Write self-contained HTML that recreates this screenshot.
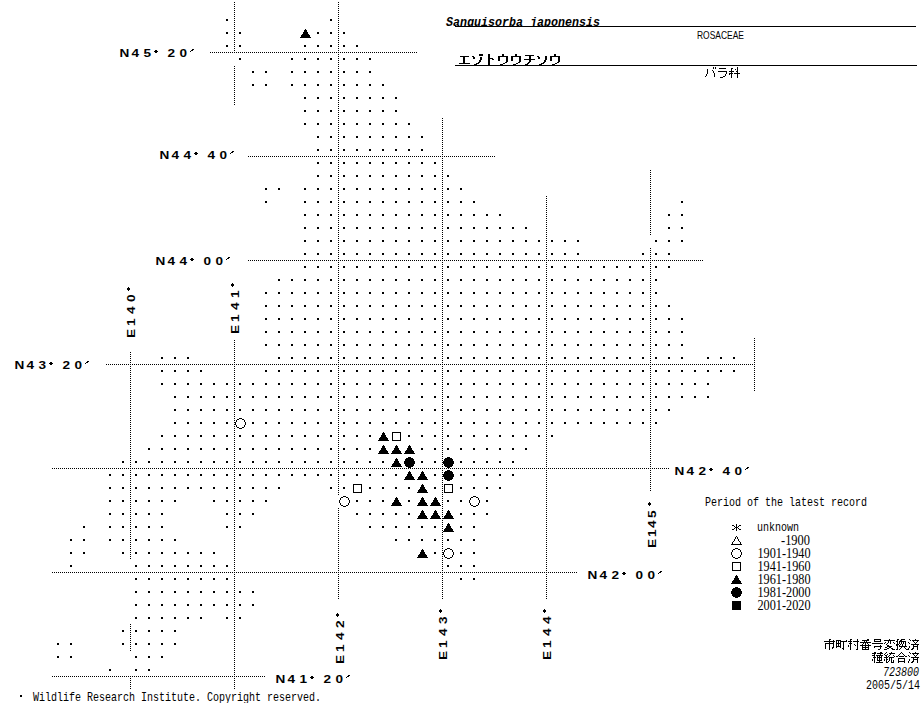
<!DOCTYPE html>
<html><head><meta charset="utf-8">
<style>
html,body{margin:0;padding:0;background:#fff;}
body{width:923px;height:703px;overflow:hidden;position:relative;}
svg{position:absolute;left:0;top:0;display:block;}
.lb{font-family:"Liberation Sans",sans-serif;font-weight:bold;font-size:10px;fill:#000;}
.mono{font-family:"Liberation Mono",monospace;fill:#000;}
.serif{font-family:"Liberation Serif",serif;fill:#000;}
.sans{font-family:"Liberation Sans",sans-serif;fill:#000;}
</style></head><body>
<svg width="923" height="703" viewBox="0 0 923 703">
<g shape-rendering="crispEdges" fill="#000">
<path d="M226 19h2v2h-2zM330 19h2v2h-2zM226 32h2v2h-2zM239 32h2v2h-2zM317 32h2v2h-2zM330 32h2v2h-2zM343 32h2v2h-2zM226 45h2v2h-2zM239 45h2v2h-2zM304 45h2v2h-2zM317 45h2v2h-2zM330 45h2v2h-2zM343 45h2v2h-2zM356 45h2v2h-2zM239 58h2v2h-2zM291 58h2v2h-2zM304 58h2v2h-2zM317 58h2v2h-2zM330 58h2v2h-2zM343 58h2v2h-2zM356 58h2v2h-2zM369 58h2v2h-2zM252 71h2v2h-2zM265 71h2v2h-2zM291 71h2v2h-2zM304 71h2v2h-2zM317 71h2v2h-2zM330 71h2v2h-2zM343 71h2v2h-2zM356 71h2v2h-2zM369 71h2v2h-2zM252 84h2v2h-2zM265 84h2v2h-2zM291 84h2v2h-2zM304 84h2v2h-2zM317 84h2v2h-2zM330 84h2v2h-2zM343 84h2v2h-2zM356 84h2v2h-2zM369 84h2v2h-2zM382 84h2v2h-2zM304 97h2v2h-2zM317 97h2v2h-2zM330 97h2v2h-2zM343 97h2v2h-2zM356 97h2v2h-2zM369 97h2v2h-2zM382 97h2v2h-2zM395 97h2v2h-2zM304 110h2v2h-2zM317 110h2v2h-2zM330 110h2v2h-2zM343 110h2v2h-2zM356 110h2v2h-2zM369 110h2v2h-2zM382 110h2v2h-2zM395 110h2v2h-2zM304 123h2v2h-2zM317 123h2v2h-2zM330 123h2v2h-2zM343 123h2v2h-2zM356 123h2v2h-2zM369 123h2v2h-2zM382 123h2v2h-2zM395 123h2v2h-2zM408 123h2v2h-2zM317 136h2v2h-2zM330 136h2v2h-2zM343 136h2v2h-2zM356 136h2v2h-2zM369 136h2v2h-2zM382 136h2v2h-2zM395 136h2v2h-2zM408 136h2v2h-2zM421 136h2v2h-2zM317 149h2v2h-2zM330 149h2v2h-2zM343 149h2v2h-2zM356 149h2v2h-2zM369 149h2v2h-2zM382 149h2v2h-2zM395 149h2v2h-2zM408 149h2v2h-2zM421 149h2v2h-2zM317 162h2v2h-2zM330 162h2v2h-2zM343 162h2v2h-2zM356 162h2v2h-2zM369 162h2v2h-2zM382 162h2v2h-2zM395 162h2v2h-2zM408 162h2v2h-2zM421 162h2v2h-2zM434 162h2v2h-2zM317 175h2v2h-2zM330 175h2v2h-2zM343 175h2v2h-2zM356 175h2v2h-2zM369 175h2v2h-2zM382 175h2v2h-2zM395 175h2v2h-2zM408 175h2v2h-2zM421 175h2v2h-2zM434 175h2v2h-2zM447 175h2v2h-2zM265 188h2v2h-2zM278 188h2v2h-2zM304 188h2v2h-2zM317 188h2v2h-2zM330 188h2v2h-2zM343 188h2v2h-2zM356 188h2v2h-2zM369 188h2v2h-2zM382 188h2v2h-2zM395 188h2v2h-2zM408 188h2v2h-2zM421 188h2v2h-2zM434 188h2v2h-2zM447 188h2v2h-2zM460 188h2v2h-2zM265 201h2v2h-2zM304 201h2v2h-2zM317 201h2v2h-2zM330 201h2v2h-2zM343 201h2v2h-2zM356 201h2v2h-2zM369 201h2v2h-2zM382 201h2v2h-2zM395 201h2v2h-2zM408 201h2v2h-2zM421 201h2v2h-2zM434 201h2v2h-2zM447 201h2v2h-2zM460 201h2v2h-2zM473 201h2v2h-2zM681 201h2v2h-2zM304 214h2v2h-2zM317 214h2v2h-2zM330 214h2v2h-2zM343 214h2v2h-2zM356 214h2v2h-2zM369 214h2v2h-2zM382 214h2v2h-2zM395 214h2v2h-2zM408 214h2v2h-2zM421 214h2v2h-2zM434 214h2v2h-2zM447 214h2v2h-2zM460 214h2v2h-2zM473 214h2v2h-2zM486 214h2v2h-2zM499 214h2v2h-2zM668 214h2v2h-2zM681 214h2v2h-2zM304 227h2v2h-2zM317 227h2v2h-2zM330 227h2v2h-2zM343 227h2v2h-2zM356 227h2v2h-2zM369 227h2v2h-2zM382 227h2v2h-2zM395 227h2v2h-2zM408 227h2v2h-2zM421 227h2v2h-2zM434 227h2v2h-2zM447 227h2v2h-2zM460 227h2v2h-2zM473 227h2v2h-2zM486 227h2v2h-2zM499 227h2v2h-2zM512 227h2v2h-2zM525 227h2v2h-2zM668 227h2v2h-2zM681 227h2v2h-2zM304 240h2v2h-2zM317 240h2v2h-2zM330 240h2v2h-2zM343 240h2v2h-2zM356 240h2v2h-2zM369 240h2v2h-2zM382 240h2v2h-2zM395 240h2v2h-2zM408 240h2v2h-2zM421 240h2v2h-2zM434 240h2v2h-2zM447 240h2v2h-2zM460 240h2v2h-2zM473 240h2v2h-2zM486 240h2v2h-2zM499 240h2v2h-2zM512 240h2v2h-2zM525 240h2v2h-2zM538 240h2v2h-2zM551 240h2v2h-2zM564 240h2v2h-2zM577 240h2v2h-2zM655 240h2v2h-2zM668 240h2v2h-2zM681 240h2v2h-2zM304 253h2v2h-2zM317 253h2v2h-2zM330 253h2v2h-2zM343 253h2v2h-2zM356 253h2v2h-2zM369 253h2v2h-2zM382 253h2v2h-2zM395 253h2v2h-2zM408 253h2v2h-2zM421 253h2v2h-2zM434 253h2v2h-2zM447 253h2v2h-2zM460 253h2v2h-2zM473 253h2v2h-2zM486 253h2v2h-2zM499 253h2v2h-2zM512 253h2v2h-2zM525 253h2v2h-2zM538 253h2v2h-2zM551 253h2v2h-2zM564 253h2v2h-2zM577 253h2v2h-2zM642 253h2v2h-2zM655 253h2v2h-2zM668 253h2v2h-2zM304 266h2v2h-2zM317 266h2v2h-2zM330 266h2v2h-2zM343 266h2v2h-2zM356 266h2v2h-2zM369 266h2v2h-2zM382 266h2v2h-2zM395 266h2v2h-2zM408 266h2v2h-2zM421 266h2v2h-2zM434 266h2v2h-2zM447 266h2v2h-2zM460 266h2v2h-2zM473 266h2v2h-2zM486 266h2v2h-2zM499 266h2v2h-2zM512 266h2v2h-2zM525 266h2v2h-2zM538 266h2v2h-2zM551 266h2v2h-2zM564 266h2v2h-2zM577 266h2v2h-2zM590 266h2v2h-2zM603 266h2v2h-2zM616 266h2v2h-2zM629 266h2v2h-2zM642 266h2v2h-2zM655 266h2v2h-2zM668 266h2v2h-2zM278 279h2v2h-2zM291 279h2v2h-2zM304 279h2v2h-2zM317 279h2v2h-2zM330 279h2v2h-2zM343 279h2v2h-2zM356 279h2v2h-2zM369 279h2v2h-2zM382 279h2v2h-2zM395 279h2v2h-2zM408 279h2v2h-2zM421 279h2v2h-2zM434 279h2v2h-2zM447 279h2v2h-2zM460 279h2v2h-2zM473 279h2v2h-2zM486 279h2v2h-2zM499 279h2v2h-2zM512 279h2v2h-2zM525 279h2v2h-2zM538 279h2v2h-2zM551 279h2v2h-2zM564 279h2v2h-2zM577 279h2v2h-2zM590 279h2v2h-2zM603 279h2v2h-2zM616 279h2v2h-2zM629 279h2v2h-2zM642 279h2v2h-2zM655 279h2v2h-2zM265 292h2v2h-2zM278 292h2v2h-2zM291 292h2v2h-2zM304 292h2v2h-2zM317 292h2v2h-2zM330 292h2v2h-2zM343 292h2v2h-2zM356 292h2v2h-2zM369 292h2v2h-2zM382 292h2v2h-2zM395 292h2v2h-2zM408 292h2v2h-2zM421 292h2v2h-2zM434 292h2v2h-2zM447 292h2v2h-2zM460 292h2v2h-2zM473 292h2v2h-2zM486 292h2v2h-2zM499 292h2v2h-2zM512 292h2v2h-2zM525 292h2v2h-2zM538 292h2v2h-2zM551 292h2v2h-2zM564 292h2v2h-2zM577 292h2v2h-2zM590 292h2v2h-2zM603 292h2v2h-2zM616 292h2v2h-2zM629 292h2v2h-2zM642 292h2v2h-2zM655 292h2v2h-2zM265 305h2v2h-2zM278 305h2v2h-2zM291 305h2v2h-2zM304 305h2v2h-2zM317 305h2v2h-2zM330 305h2v2h-2zM343 305h2v2h-2zM356 305h2v2h-2zM369 305h2v2h-2zM382 305h2v2h-2zM395 305h2v2h-2zM408 305h2v2h-2zM421 305h2v2h-2zM434 305h2v2h-2zM447 305h2v2h-2zM460 305h2v2h-2zM473 305h2v2h-2zM486 305h2v2h-2zM499 305h2v2h-2zM512 305h2v2h-2zM525 305h2v2h-2zM538 305h2v2h-2zM551 305h2v2h-2zM564 305h2v2h-2zM577 305h2v2h-2zM590 305h2v2h-2zM603 305h2v2h-2zM616 305h2v2h-2zM629 305h2v2h-2zM642 305h2v2h-2zM655 305h2v2h-2zM668 305h2v2h-2zM265 318h2v2h-2zM278 318h2v2h-2zM291 318h2v2h-2zM304 318h2v2h-2zM317 318h2v2h-2zM330 318h2v2h-2zM343 318h2v2h-2zM356 318h2v2h-2zM369 318h2v2h-2zM382 318h2v2h-2zM395 318h2v2h-2zM408 318h2v2h-2zM421 318h2v2h-2zM434 318h2v2h-2zM447 318h2v2h-2zM460 318h2v2h-2zM473 318h2v2h-2zM486 318h2v2h-2zM499 318h2v2h-2zM512 318h2v2h-2zM525 318h2v2h-2zM538 318h2v2h-2zM551 318h2v2h-2zM564 318h2v2h-2zM577 318h2v2h-2zM590 318h2v2h-2zM603 318h2v2h-2zM616 318h2v2h-2zM629 318h2v2h-2zM642 318h2v2h-2zM655 318h2v2h-2zM668 318h2v2h-2zM681 318h2v2h-2zM265 331h2v2h-2zM278 331h2v2h-2zM291 331h2v2h-2zM304 331h2v2h-2zM317 331h2v2h-2zM330 331h2v2h-2zM343 331h2v2h-2zM356 331h2v2h-2zM369 331h2v2h-2zM382 331h2v2h-2zM395 331h2v2h-2zM408 331h2v2h-2zM421 331h2v2h-2zM434 331h2v2h-2zM447 331h2v2h-2zM460 331h2v2h-2zM473 331h2v2h-2zM486 331h2v2h-2zM499 331h2v2h-2zM512 331h2v2h-2zM525 331h2v2h-2zM538 331h2v2h-2zM551 331h2v2h-2zM564 331h2v2h-2zM577 331h2v2h-2zM590 331h2v2h-2zM603 331h2v2h-2zM616 331h2v2h-2zM629 331h2v2h-2zM642 331h2v2h-2zM655 331h2v2h-2zM668 331h2v2h-2zM681 331h2v2h-2zM265 344h2v2h-2zM278 344h2v2h-2zM291 344h2v2h-2zM304 344h2v2h-2zM317 344h2v2h-2zM330 344h2v2h-2zM343 344h2v2h-2zM356 344h2v2h-2zM369 344h2v2h-2zM382 344h2v2h-2zM395 344h2v2h-2zM408 344h2v2h-2zM421 344h2v2h-2zM434 344h2v2h-2zM447 344h2v2h-2zM460 344h2v2h-2zM473 344h2v2h-2zM486 344h2v2h-2zM499 344h2v2h-2zM512 344h2v2h-2zM525 344h2v2h-2zM538 344h2v2h-2zM551 344h2v2h-2zM564 344h2v2h-2zM577 344h2v2h-2zM590 344h2v2h-2zM603 344h2v2h-2zM616 344h2v2h-2zM629 344h2v2h-2zM642 344h2v2h-2zM655 344h2v2h-2zM668 344h2v2h-2zM681 344h2v2h-2zM161 357h2v2h-2zM174 357h2v2h-2zM187 357h2v2h-2zM278 357h2v2h-2zM291 357h2v2h-2zM304 357h2v2h-2zM317 357h2v2h-2zM330 357h2v2h-2zM343 357h2v2h-2zM356 357h2v2h-2zM369 357h2v2h-2zM382 357h2v2h-2zM395 357h2v2h-2zM408 357h2v2h-2zM421 357h2v2h-2zM434 357h2v2h-2zM447 357h2v2h-2zM460 357h2v2h-2zM473 357h2v2h-2zM486 357h2v2h-2zM499 357h2v2h-2zM512 357h2v2h-2zM525 357h2v2h-2zM538 357h2v2h-2zM551 357h2v2h-2zM564 357h2v2h-2zM577 357h2v2h-2zM590 357h2v2h-2zM603 357h2v2h-2zM616 357h2v2h-2zM629 357h2v2h-2zM642 357h2v2h-2zM655 357h2v2h-2zM668 357h2v2h-2zM681 357h2v2h-2zM707 357h2v2h-2zM720 357h2v2h-2zM733 357h2v2h-2zM161 370h2v2h-2zM174 370h2v2h-2zM187 370h2v2h-2zM200 370h2v2h-2zM265 370h2v2h-2zM278 370h2v2h-2zM291 370h2v2h-2zM304 370h2v2h-2zM317 370h2v2h-2zM330 370h2v2h-2zM343 370h2v2h-2zM356 370h2v2h-2zM369 370h2v2h-2zM382 370h2v2h-2zM395 370h2v2h-2zM408 370h2v2h-2zM421 370h2v2h-2zM434 370h2v2h-2zM447 370h2v2h-2zM460 370h2v2h-2zM473 370h2v2h-2zM486 370h2v2h-2zM499 370h2v2h-2zM512 370h2v2h-2zM525 370h2v2h-2zM538 370h2v2h-2zM551 370h2v2h-2zM564 370h2v2h-2zM577 370h2v2h-2zM590 370h2v2h-2zM603 370h2v2h-2zM616 370h2v2h-2zM629 370h2v2h-2zM642 370h2v2h-2zM655 370h2v2h-2zM668 370h2v2h-2zM681 370h2v2h-2zM694 370h2v2h-2zM707 370h2v2h-2zM720 370h2v2h-2zM733 370h2v2h-2zM161 383h2v2h-2zM174 383h2v2h-2zM187 383h2v2h-2zM200 383h2v2h-2zM213 383h2v2h-2zM226 383h2v2h-2zM239 383h2v2h-2zM252 383h2v2h-2zM265 383h2v2h-2zM278 383h2v2h-2zM291 383h2v2h-2zM304 383h2v2h-2zM317 383h2v2h-2zM330 383h2v2h-2zM343 383h2v2h-2zM356 383h2v2h-2zM369 383h2v2h-2zM382 383h2v2h-2zM395 383h2v2h-2zM408 383h2v2h-2zM421 383h2v2h-2zM434 383h2v2h-2zM447 383h2v2h-2zM460 383h2v2h-2zM473 383h2v2h-2zM486 383h2v2h-2zM499 383h2v2h-2zM512 383h2v2h-2zM525 383h2v2h-2zM538 383h2v2h-2zM551 383h2v2h-2zM564 383h2v2h-2zM577 383h2v2h-2zM590 383h2v2h-2zM603 383h2v2h-2zM616 383h2v2h-2zM629 383h2v2h-2zM642 383h2v2h-2zM655 383h2v2h-2zM668 383h2v2h-2zM681 383h2v2h-2zM694 383h2v2h-2zM707 383h2v2h-2zM174 396h2v2h-2zM187 396h2v2h-2zM200 396h2v2h-2zM213 396h2v2h-2zM226 396h2v2h-2zM239 396h2v2h-2zM252 396h2v2h-2zM265 396h2v2h-2zM278 396h2v2h-2zM291 396h2v2h-2zM304 396h2v2h-2zM317 396h2v2h-2zM330 396h2v2h-2zM343 396h2v2h-2zM356 396h2v2h-2zM369 396h2v2h-2zM382 396h2v2h-2zM395 396h2v2h-2zM408 396h2v2h-2zM421 396h2v2h-2zM434 396h2v2h-2zM447 396h2v2h-2zM460 396h2v2h-2zM473 396h2v2h-2zM486 396h2v2h-2zM499 396h2v2h-2zM512 396h2v2h-2zM525 396h2v2h-2zM538 396h2v2h-2zM551 396h2v2h-2zM564 396h2v2h-2zM577 396h2v2h-2zM590 396h2v2h-2zM603 396h2v2h-2zM616 396h2v2h-2zM629 396h2v2h-2zM642 396h2v2h-2zM655 396h2v2h-2zM668 396h2v2h-2zM681 396h2v2h-2zM694 396h2v2h-2zM707 396h2v2h-2zM174 409h2v2h-2zM187 409h2v2h-2zM200 409h2v2h-2zM213 409h2v2h-2zM226 409h2v2h-2zM239 409h2v2h-2zM252 409h2v2h-2zM265 409h2v2h-2zM278 409h2v2h-2zM291 409h2v2h-2zM304 409h2v2h-2zM317 409h2v2h-2zM330 409h2v2h-2zM343 409h2v2h-2zM356 409h2v2h-2zM369 409h2v2h-2zM382 409h2v2h-2zM395 409h2v2h-2zM408 409h2v2h-2zM421 409h2v2h-2zM434 409h2v2h-2zM447 409h2v2h-2zM460 409h2v2h-2zM473 409h2v2h-2zM486 409h2v2h-2zM499 409h2v2h-2zM512 409h2v2h-2zM525 409h2v2h-2zM538 409h2v2h-2zM551 409h2v2h-2zM564 409h2v2h-2zM577 409h2v2h-2zM590 409h2v2h-2zM603 409h2v2h-2zM616 409h2v2h-2zM629 409h2v2h-2zM642 409h2v2h-2zM655 409h2v2h-2zM668 409h2v2h-2zM174 422h2v2h-2zM187 422h2v2h-2zM200 422h2v2h-2zM213 422h2v2h-2zM226 422h2v2h-2zM252 422h2v2h-2zM265 422h2v2h-2zM278 422h2v2h-2zM291 422h2v2h-2zM304 422h2v2h-2zM317 422h2v2h-2zM330 422h2v2h-2zM343 422h2v2h-2zM356 422h2v2h-2zM369 422h2v2h-2zM382 422h2v2h-2zM395 422h2v2h-2zM408 422h2v2h-2zM421 422h2v2h-2zM434 422h2v2h-2zM447 422h2v2h-2zM460 422h2v2h-2zM473 422h2v2h-2zM486 422h2v2h-2zM499 422h2v2h-2zM512 422h2v2h-2zM525 422h2v2h-2zM538 422h2v2h-2zM551 422h2v2h-2zM564 422h2v2h-2zM577 422h2v2h-2zM590 422h2v2h-2zM603 422h2v2h-2zM616 422h2v2h-2zM629 422h2v2h-2zM642 422h2v2h-2zM655 422h2v2h-2zM161 435h2v2h-2zM174 435h2v2h-2zM187 435h2v2h-2zM200 435h2v2h-2zM213 435h2v2h-2zM226 435h2v2h-2zM239 435h2v2h-2zM252 435h2v2h-2zM265 435h2v2h-2zM278 435h2v2h-2zM291 435h2v2h-2zM304 435h2v2h-2zM317 435h2v2h-2zM330 435h2v2h-2zM343 435h2v2h-2zM356 435h2v2h-2zM369 435h2v2h-2zM408 435h2v2h-2zM421 435h2v2h-2zM434 435h2v2h-2zM447 435h2v2h-2zM460 435h2v2h-2zM473 435h2v2h-2zM486 435h2v2h-2zM499 435h2v2h-2zM512 435h2v2h-2zM525 435h2v2h-2zM538 435h2v2h-2zM551 435h2v2h-2zM148 448h2v2h-2zM161 448h2v2h-2zM174 448h2v2h-2zM187 448h2v2h-2zM200 448h2v2h-2zM213 448h2v2h-2zM226 448h2v2h-2zM239 448h2v2h-2zM252 448h2v2h-2zM265 448h2v2h-2zM278 448h2v2h-2zM291 448h2v2h-2zM304 448h2v2h-2zM317 448h2v2h-2zM330 448h2v2h-2zM343 448h2v2h-2zM356 448h2v2h-2zM369 448h2v2h-2zM421 448h2v2h-2zM434 448h2v2h-2zM447 448h2v2h-2zM460 448h2v2h-2zM473 448h2v2h-2zM486 448h2v2h-2zM499 448h2v2h-2zM512 448h2v2h-2zM525 448h2v2h-2zM122 461h2v2h-2zM135 461h2v2h-2zM148 461h2v2h-2zM161 461h2v2h-2zM174 461h2v2h-2zM187 461h2v2h-2zM200 461h2v2h-2zM213 461h2v2h-2zM226 461h2v2h-2zM239 461h2v2h-2zM252 461h2v2h-2zM265 461h2v2h-2zM278 461h2v2h-2zM291 461h2v2h-2zM304 461h2v2h-2zM317 461h2v2h-2zM330 461h2v2h-2zM343 461h2v2h-2zM356 461h2v2h-2zM369 461h2v2h-2zM382 461h2v2h-2zM421 461h2v2h-2zM434 461h2v2h-2zM460 461h2v2h-2zM473 461h2v2h-2zM486 461h2v2h-2zM499 461h2v2h-2zM512 461h2v2h-2zM109 474h2v2h-2zM122 474h2v2h-2zM135 474h2v2h-2zM148 474h2v2h-2zM161 474h2v2h-2zM174 474h2v2h-2zM187 474h2v2h-2zM200 474h2v2h-2zM213 474h2v2h-2zM226 474h2v2h-2zM239 474h2v2h-2zM252 474h2v2h-2zM265 474h2v2h-2zM278 474h2v2h-2zM291 474h2v2h-2zM304 474h2v2h-2zM317 474h2v2h-2zM330 474h2v2h-2zM343 474h2v2h-2zM356 474h2v2h-2zM369 474h2v2h-2zM382 474h2v2h-2zM395 474h2v2h-2zM434 474h2v2h-2zM460 474h2v2h-2zM473 474h2v2h-2zM486 474h2v2h-2zM499 474h2v2h-2zM512 474h2v2h-2zM109 487h2v2h-2zM122 487h2v2h-2zM135 487h2v2h-2zM148 487h2v2h-2zM161 487h2v2h-2zM174 487h2v2h-2zM187 487h2v2h-2zM200 487h2v2h-2zM213 487h2v2h-2zM226 487h2v2h-2zM239 487h2v2h-2zM252 487h2v2h-2zM265 487h2v2h-2zM278 487h2v2h-2zM330 487h2v2h-2zM343 487h2v2h-2zM369 487h2v2h-2zM382 487h2v2h-2zM395 487h2v2h-2zM408 487h2v2h-2zM434 487h2v2h-2zM460 487h2v2h-2zM473 487h2v2h-2zM486 487h2v2h-2zM499 487h2v2h-2zM109 500h2v2h-2zM122 500h2v2h-2zM135 500h2v2h-2zM148 500h2v2h-2zM161 500h2v2h-2zM174 500h2v2h-2zM213 500h2v2h-2zM226 500h2v2h-2zM239 500h2v2h-2zM252 500h2v2h-2zM265 500h2v2h-2zM356 500h2v2h-2zM369 500h2v2h-2zM382 500h2v2h-2zM408 500h2v2h-2zM447 500h2v2h-2zM460 500h2v2h-2zM486 500h2v2h-2zM109 513h2v2h-2zM122 513h2v2h-2zM135 513h2v2h-2zM148 513h2v2h-2zM161 513h2v2h-2zM226 513h2v2h-2zM239 513h2v2h-2zM252 513h2v2h-2zM356 513h2v2h-2zM369 513h2v2h-2zM382 513h2v2h-2zM395 513h2v2h-2zM408 513h2v2h-2zM460 513h2v2h-2zM473 513h2v2h-2zM486 513h2v2h-2zM83 526h2v2h-2zM109 526h2v2h-2zM122 526h2v2h-2zM135 526h2v2h-2zM148 526h2v2h-2zM161 526h2v2h-2zM226 526h2v2h-2zM239 526h2v2h-2zM369 526h2v2h-2zM382 526h2v2h-2zM395 526h2v2h-2zM408 526h2v2h-2zM421 526h2v2h-2zM434 526h2v2h-2zM460 526h2v2h-2zM473 526h2v2h-2zM70 539h2v2h-2zM83 539h2v2h-2zM109 539h2v2h-2zM122 539h2v2h-2zM135 539h2v2h-2zM148 539h2v2h-2zM161 539h2v2h-2zM174 539h2v2h-2zM395 539h2v2h-2zM408 539h2v2h-2zM421 539h2v2h-2zM434 539h2v2h-2zM447 539h2v2h-2zM460 539h2v2h-2zM473 539h2v2h-2zM70 552h2v2h-2zM83 552h2v2h-2zM122 552h2v2h-2zM135 552h2v2h-2zM148 552h2v2h-2zM161 552h2v2h-2zM174 552h2v2h-2zM187 552h2v2h-2zM200 552h2v2h-2zM213 552h2v2h-2zM434 552h2v2h-2zM460 552h2v2h-2zM473 552h2v2h-2zM70 565h2v2h-2zM135 565h2v2h-2zM148 565h2v2h-2zM161 565h2v2h-2zM174 565h2v2h-2zM187 565h2v2h-2zM200 565h2v2h-2zM213 565h2v2h-2zM226 565h2v2h-2zM447 565h2v2h-2zM460 565h2v2h-2zM473 565h2v2h-2zM135 578h2v2h-2zM148 578h2v2h-2zM161 578h2v2h-2zM174 578h2v2h-2zM187 578h2v2h-2zM200 578h2v2h-2zM213 578h2v2h-2zM226 578h2v2h-2zM460 578h2v2h-2zM473 578h2v2h-2zM135 591h2v2h-2zM148 591h2v2h-2zM161 591h2v2h-2zM174 591h2v2h-2zM187 591h2v2h-2zM200 591h2v2h-2zM213 591h2v2h-2zM226 591h2v2h-2zM239 591h2v2h-2zM252 591h2v2h-2zM135 604h2v2h-2zM148 604h2v2h-2zM161 604h2v2h-2zM174 604h2v2h-2zM187 604h2v2h-2zM200 604h2v2h-2zM213 604h2v2h-2zM226 604h2v2h-2zM239 604h2v2h-2zM252 604h2v2h-2zM135 617h2v2h-2zM148 617h2v2h-2zM161 617h2v2h-2zM174 617h2v2h-2zM187 617h2v2h-2zM200 617h2v2h-2zM226 617h2v2h-2zM239 617h2v2h-2zM122 630h2v2h-2zM135 630h2v2h-2zM148 630h2v2h-2zM161 630h2v2h-2zM174 630h2v2h-2zM57 643h2v2h-2zM70 643h2v2h-2zM122 643h2v2h-2zM135 643h2v2h-2zM148 643h2v2h-2zM161 643h2v2h-2zM174 643h2v2h-2zM57 656h2v2h-2zM70 656h2v2h-2zM135 656h2v2h-2zM148 656h2v2h-2zM161 656h2v2h-2zM109 669h2v2h-2zM135 669h2v2h-2zM148 669h2v2h-2z"/>
<path d="M210 52h1v1h-1zM212 52h1v1h-1zM214 52h1v1h-1zM216 52h1v1h-1zM218 52h1v1h-1zM220 52h1v1h-1zM222 52h1v1h-1zM224 52h1v1h-1zM226 52h1v1h-1zM228 52h1v1h-1zM230 52h1v1h-1zM232 52h1v1h-1zM234 52h1v1h-1zM236 52h1v1h-1zM238 52h1v1h-1zM240 52h1v1h-1zM242 52h1v1h-1zM244 52h1v1h-1zM246 52h1v1h-1zM248 52h1v1h-1zM250 52h1v1h-1zM252 52h1v1h-1zM254 52h1v1h-1zM256 52h1v1h-1zM258 52h1v1h-1zM260 52h1v1h-1zM262 52h1v1h-1zM264 52h1v1h-1zM266 52h1v1h-1zM268 52h1v1h-1zM270 52h1v1h-1zM272 52h1v1h-1zM274 52h1v1h-1zM276 52h1v1h-1zM278 52h1v1h-1zM280 52h1v1h-1zM282 52h1v1h-1zM284 52h1v1h-1zM286 52h1v1h-1zM288 52h1v1h-1zM290 52h1v1h-1zM292 52h1v1h-1zM294 52h1v1h-1zM296 52h1v1h-1zM298 52h1v1h-1zM300 52h1v1h-1zM302 52h1v1h-1zM304 52h1v1h-1zM306 52h1v1h-1zM308 52h1v1h-1zM310 52h1v1h-1zM312 52h1v1h-1zM314 52h1v1h-1zM316 52h1v1h-1zM318 52h1v1h-1zM320 52h1v1h-1zM322 52h1v1h-1zM324 52h1v1h-1zM326 52h1v1h-1zM328 52h1v1h-1zM330 52h1v1h-1zM332 52h1v1h-1zM334 52h1v1h-1zM336 52h1v1h-1zM338 52h1v1h-1zM340 52h1v1h-1zM342 52h1v1h-1zM344 52h1v1h-1zM346 52h1v1h-1zM348 52h1v1h-1zM350 52h1v1h-1zM352 52h1v1h-1zM354 52h1v1h-1zM356 52h1v1h-1zM358 52h1v1h-1zM360 52h1v1h-1zM362 52h1v1h-1zM364 52h1v1h-1zM366 52h1v1h-1zM368 52h1v1h-1zM370 52h1v1h-1zM372 52h1v1h-1zM374 52h1v1h-1zM376 52h1v1h-1zM378 52h1v1h-1zM380 52h1v1h-1zM382 52h1v1h-1zM384 52h1v1h-1zM386 52h1v1h-1zM388 52h1v1h-1zM390 52h1v1h-1zM392 52h1v1h-1zM394 52h1v1h-1zM396 52h1v1h-1zM398 52h1v1h-1zM400 52h1v1h-1zM402 52h1v1h-1zM404 52h1v1h-1zM406 52h1v1h-1zM408 52h1v1h-1zM410 52h1v1h-1zM412 52h1v1h-1zM414 52h1v1h-1zM416 52h1v1h-1zM248 156h1v1h-1zM250 156h1v1h-1zM252 156h1v1h-1zM254 156h1v1h-1zM256 156h1v1h-1zM258 156h1v1h-1zM260 156h1v1h-1zM262 156h1v1h-1zM264 156h1v1h-1zM266 156h1v1h-1zM268 156h1v1h-1zM270 156h1v1h-1zM272 156h1v1h-1zM274 156h1v1h-1zM276 156h1v1h-1zM278 156h1v1h-1zM280 156h1v1h-1zM282 156h1v1h-1zM284 156h1v1h-1zM286 156h1v1h-1zM288 156h1v1h-1zM290 156h1v1h-1zM292 156h1v1h-1zM294 156h1v1h-1zM296 156h1v1h-1zM298 156h1v1h-1zM300 156h1v1h-1zM302 156h1v1h-1zM304 156h1v1h-1zM306 156h1v1h-1zM308 156h1v1h-1zM310 156h1v1h-1zM312 156h1v1h-1zM314 156h1v1h-1zM316 156h1v1h-1zM318 156h1v1h-1zM320 156h1v1h-1zM322 156h1v1h-1zM324 156h1v1h-1zM326 156h1v1h-1zM328 156h1v1h-1zM330 156h1v1h-1zM332 156h1v1h-1zM334 156h1v1h-1zM336 156h1v1h-1zM338 156h1v1h-1zM340 156h1v1h-1zM342 156h1v1h-1zM344 156h1v1h-1zM346 156h1v1h-1zM348 156h1v1h-1zM350 156h1v1h-1zM352 156h1v1h-1zM354 156h1v1h-1zM356 156h1v1h-1zM358 156h1v1h-1zM360 156h1v1h-1zM362 156h1v1h-1zM364 156h1v1h-1zM366 156h1v1h-1zM368 156h1v1h-1zM370 156h1v1h-1zM372 156h1v1h-1zM374 156h1v1h-1zM376 156h1v1h-1zM378 156h1v1h-1zM380 156h1v1h-1zM382 156h1v1h-1zM384 156h1v1h-1zM386 156h1v1h-1zM388 156h1v1h-1zM390 156h1v1h-1zM392 156h1v1h-1zM394 156h1v1h-1zM396 156h1v1h-1zM398 156h1v1h-1zM400 156h1v1h-1zM402 156h1v1h-1zM404 156h1v1h-1zM406 156h1v1h-1zM408 156h1v1h-1zM410 156h1v1h-1zM412 156h1v1h-1zM414 156h1v1h-1zM416 156h1v1h-1zM418 156h1v1h-1zM420 156h1v1h-1zM422 156h1v1h-1zM424 156h1v1h-1zM426 156h1v1h-1zM428 156h1v1h-1zM430 156h1v1h-1zM432 156h1v1h-1zM434 156h1v1h-1zM436 156h1v1h-1zM438 156h1v1h-1zM440 156h1v1h-1zM442 156h1v1h-1zM444 156h1v1h-1zM446 156h1v1h-1zM448 156h1v1h-1zM450 156h1v1h-1zM452 156h1v1h-1zM454 156h1v1h-1zM456 156h1v1h-1zM458 156h1v1h-1zM460 156h1v1h-1zM462 156h1v1h-1zM464 156h1v1h-1zM466 156h1v1h-1zM468 156h1v1h-1zM470 156h1v1h-1zM472 156h1v1h-1zM474 156h1v1h-1zM476 156h1v1h-1zM478 156h1v1h-1zM480 156h1v1h-1zM482 156h1v1h-1zM484 156h1v1h-1zM486 156h1v1h-1zM488 156h1v1h-1zM490 156h1v1h-1zM492 156h1v1h-1zM494 156h1v1h-1zM248 260h1v1h-1zM250 260h1v1h-1zM252 260h1v1h-1zM254 260h1v1h-1zM256 260h1v1h-1zM258 260h1v1h-1zM260 260h1v1h-1zM262 260h1v1h-1zM264 260h1v1h-1zM266 260h1v1h-1zM268 260h1v1h-1zM270 260h1v1h-1zM272 260h1v1h-1zM274 260h1v1h-1zM276 260h1v1h-1zM278 260h1v1h-1zM280 260h1v1h-1zM282 260h1v1h-1zM284 260h1v1h-1zM286 260h1v1h-1zM288 260h1v1h-1zM290 260h1v1h-1zM292 260h1v1h-1zM294 260h1v1h-1zM296 260h1v1h-1zM298 260h1v1h-1zM300 260h1v1h-1zM302 260h1v1h-1zM304 260h1v1h-1zM306 260h1v1h-1zM308 260h1v1h-1zM310 260h1v1h-1zM312 260h1v1h-1zM314 260h1v1h-1zM316 260h1v1h-1zM318 260h1v1h-1zM320 260h1v1h-1zM322 260h1v1h-1zM324 260h1v1h-1zM326 260h1v1h-1zM328 260h1v1h-1zM330 260h1v1h-1zM332 260h1v1h-1zM334 260h1v1h-1zM336 260h1v1h-1zM338 260h1v1h-1zM340 260h1v1h-1zM342 260h1v1h-1zM344 260h1v1h-1zM346 260h1v1h-1zM348 260h1v1h-1zM350 260h1v1h-1zM352 260h1v1h-1zM354 260h1v1h-1zM356 260h1v1h-1zM358 260h1v1h-1zM360 260h1v1h-1zM362 260h1v1h-1zM364 260h1v1h-1zM366 260h1v1h-1zM368 260h1v1h-1zM370 260h1v1h-1zM372 260h1v1h-1zM374 260h1v1h-1zM376 260h1v1h-1zM378 260h1v1h-1zM380 260h1v1h-1zM382 260h1v1h-1zM384 260h1v1h-1zM386 260h1v1h-1zM388 260h1v1h-1zM390 260h1v1h-1zM392 260h1v1h-1zM394 260h1v1h-1zM396 260h1v1h-1zM398 260h1v1h-1zM400 260h1v1h-1zM402 260h1v1h-1zM404 260h1v1h-1zM406 260h1v1h-1zM408 260h1v1h-1zM410 260h1v1h-1zM412 260h1v1h-1zM414 260h1v1h-1zM416 260h1v1h-1zM418 260h1v1h-1zM420 260h1v1h-1zM422 260h1v1h-1zM424 260h1v1h-1zM426 260h1v1h-1zM428 260h1v1h-1zM430 260h1v1h-1zM432 260h1v1h-1zM434 260h1v1h-1zM436 260h1v1h-1zM438 260h1v1h-1zM440 260h1v1h-1zM442 260h1v1h-1zM444 260h1v1h-1zM446 260h1v1h-1zM448 260h1v1h-1zM450 260h1v1h-1zM452 260h1v1h-1zM454 260h1v1h-1zM456 260h1v1h-1zM458 260h1v1h-1zM460 260h1v1h-1zM462 260h1v1h-1zM464 260h1v1h-1zM466 260h1v1h-1zM468 260h1v1h-1zM470 260h1v1h-1zM472 260h1v1h-1zM474 260h1v1h-1zM476 260h1v1h-1zM478 260h1v1h-1zM480 260h1v1h-1zM482 260h1v1h-1zM484 260h1v1h-1zM486 260h1v1h-1zM488 260h1v1h-1zM490 260h1v1h-1zM492 260h1v1h-1zM494 260h1v1h-1zM496 260h1v1h-1zM498 260h1v1h-1zM500 260h1v1h-1zM502 260h1v1h-1zM504 260h1v1h-1zM506 260h1v1h-1zM508 260h1v1h-1zM510 260h1v1h-1zM512 260h1v1h-1zM514 260h1v1h-1zM516 260h1v1h-1zM518 260h1v1h-1zM520 260h1v1h-1zM522 260h1v1h-1zM524 260h1v1h-1zM526 260h1v1h-1zM528 260h1v1h-1zM530 260h1v1h-1zM532 260h1v1h-1zM534 260h1v1h-1zM536 260h1v1h-1zM538 260h1v1h-1zM540 260h1v1h-1zM542 260h1v1h-1zM544 260h1v1h-1zM546 260h1v1h-1zM548 260h1v1h-1zM550 260h1v1h-1zM552 260h1v1h-1zM554 260h1v1h-1zM556 260h1v1h-1zM558 260h1v1h-1zM560 260h1v1h-1zM562 260h1v1h-1zM564 260h1v1h-1zM566 260h1v1h-1zM568 260h1v1h-1zM570 260h1v1h-1zM572 260h1v1h-1zM574 260h1v1h-1zM576 260h1v1h-1zM578 260h1v1h-1zM580 260h1v1h-1zM582 260h1v1h-1zM584 260h1v1h-1zM586 260h1v1h-1zM588 260h1v1h-1zM590 260h1v1h-1zM592 260h1v1h-1zM594 260h1v1h-1zM596 260h1v1h-1zM598 260h1v1h-1zM600 260h1v1h-1zM602 260h1v1h-1zM604 260h1v1h-1zM606 260h1v1h-1zM608 260h1v1h-1zM610 260h1v1h-1zM612 260h1v1h-1zM614 260h1v1h-1zM616 260h1v1h-1zM618 260h1v1h-1zM620 260h1v1h-1zM622 260h1v1h-1zM624 260h1v1h-1zM626 260h1v1h-1zM628 260h1v1h-1zM630 260h1v1h-1zM632 260h1v1h-1zM634 260h1v1h-1zM636 260h1v1h-1zM638 260h1v1h-1zM640 260h1v1h-1zM642 260h1v1h-1zM644 260h1v1h-1zM646 260h1v1h-1zM648 260h1v1h-1zM650 260h1v1h-1zM652 260h1v1h-1zM654 260h1v1h-1zM656 260h1v1h-1zM658 260h1v1h-1zM660 260h1v1h-1zM662 260h1v1h-1zM664 260h1v1h-1zM666 260h1v1h-1zM668 260h1v1h-1zM670 260h1v1h-1zM672 260h1v1h-1zM674 260h1v1h-1zM676 260h1v1h-1zM678 260h1v1h-1zM680 260h1v1h-1zM682 260h1v1h-1zM684 260h1v1h-1zM686 260h1v1h-1zM688 260h1v1h-1zM690 260h1v1h-1zM692 260h1v1h-1zM694 260h1v1h-1zM696 260h1v1h-1zM698 260h1v1h-1zM700 260h1v1h-1zM702 260h1v1h-1zM106 364h1v1h-1zM108 364h1v1h-1zM110 364h1v1h-1zM112 364h1v1h-1zM114 364h1v1h-1zM116 364h1v1h-1zM118 364h1v1h-1zM120 364h1v1h-1zM122 364h1v1h-1zM124 364h1v1h-1zM126 364h1v1h-1zM128 364h1v1h-1zM130 364h1v1h-1zM132 364h1v1h-1zM134 364h1v1h-1zM136 364h1v1h-1zM138 364h1v1h-1zM140 364h1v1h-1zM142 364h1v1h-1zM144 364h1v1h-1zM146 364h1v1h-1zM148 364h1v1h-1zM150 364h1v1h-1zM152 364h1v1h-1zM154 364h1v1h-1zM156 364h1v1h-1zM158 364h1v1h-1zM160 364h1v1h-1zM162 364h1v1h-1zM164 364h1v1h-1zM166 364h1v1h-1zM168 364h1v1h-1zM170 364h1v1h-1zM172 364h1v1h-1zM174 364h1v1h-1zM176 364h1v1h-1zM178 364h1v1h-1zM180 364h1v1h-1zM182 364h1v1h-1zM184 364h1v1h-1zM186 364h1v1h-1zM188 364h1v1h-1zM190 364h1v1h-1zM192 364h1v1h-1zM194 364h1v1h-1zM196 364h1v1h-1zM198 364h1v1h-1zM200 364h1v1h-1zM202 364h1v1h-1zM204 364h1v1h-1zM206 364h1v1h-1zM208 364h1v1h-1zM210 364h1v1h-1zM212 364h1v1h-1zM214 364h1v1h-1zM216 364h1v1h-1zM218 364h1v1h-1zM220 364h1v1h-1zM222 364h1v1h-1zM224 364h1v1h-1zM226 364h1v1h-1zM228 364h1v1h-1zM230 364h1v1h-1zM232 364h1v1h-1zM234 364h1v1h-1zM236 364h1v1h-1zM238 364h1v1h-1zM240 364h1v1h-1zM242 364h1v1h-1zM244 364h1v1h-1zM246 364h1v1h-1zM248 364h1v1h-1zM250 364h1v1h-1zM252 364h1v1h-1zM254 364h1v1h-1zM256 364h1v1h-1zM258 364h1v1h-1zM260 364h1v1h-1zM262 364h1v1h-1zM264 364h1v1h-1zM266 364h1v1h-1zM268 364h1v1h-1zM270 364h1v1h-1zM272 364h1v1h-1zM274 364h1v1h-1zM276 364h1v1h-1zM278 364h1v1h-1zM280 364h1v1h-1zM282 364h1v1h-1zM284 364h1v1h-1zM286 364h1v1h-1zM288 364h1v1h-1zM290 364h1v1h-1zM292 364h1v1h-1zM294 364h1v1h-1zM296 364h1v1h-1zM298 364h1v1h-1zM300 364h1v1h-1zM302 364h1v1h-1zM304 364h1v1h-1zM306 364h1v1h-1zM308 364h1v1h-1zM310 364h1v1h-1zM312 364h1v1h-1zM314 364h1v1h-1zM316 364h1v1h-1zM318 364h1v1h-1zM320 364h1v1h-1zM322 364h1v1h-1zM324 364h1v1h-1zM326 364h1v1h-1zM328 364h1v1h-1zM330 364h1v1h-1zM332 364h1v1h-1zM334 364h1v1h-1zM336 364h1v1h-1zM338 364h1v1h-1zM340 364h1v1h-1zM342 364h1v1h-1zM344 364h1v1h-1zM346 364h1v1h-1zM348 364h1v1h-1zM350 364h1v1h-1zM352 364h1v1h-1zM354 364h1v1h-1zM356 364h1v1h-1zM358 364h1v1h-1zM360 364h1v1h-1zM362 364h1v1h-1zM364 364h1v1h-1zM366 364h1v1h-1zM368 364h1v1h-1zM370 364h1v1h-1zM372 364h1v1h-1zM374 364h1v1h-1zM376 364h1v1h-1zM378 364h1v1h-1zM380 364h1v1h-1zM382 364h1v1h-1zM384 364h1v1h-1zM386 364h1v1h-1zM388 364h1v1h-1zM390 364h1v1h-1zM392 364h1v1h-1zM394 364h1v1h-1zM396 364h1v1h-1zM398 364h1v1h-1zM400 364h1v1h-1zM402 364h1v1h-1zM404 364h1v1h-1zM406 364h1v1h-1zM408 364h1v1h-1zM410 364h1v1h-1zM412 364h1v1h-1zM414 364h1v1h-1zM416 364h1v1h-1zM418 364h1v1h-1zM420 364h1v1h-1zM422 364h1v1h-1zM424 364h1v1h-1zM426 364h1v1h-1zM428 364h1v1h-1zM430 364h1v1h-1zM432 364h1v1h-1zM434 364h1v1h-1zM436 364h1v1h-1zM438 364h1v1h-1zM440 364h1v1h-1zM442 364h1v1h-1zM444 364h1v1h-1zM446 364h1v1h-1zM448 364h1v1h-1zM450 364h1v1h-1zM452 364h1v1h-1zM454 364h1v1h-1zM456 364h1v1h-1zM458 364h1v1h-1zM460 364h1v1h-1zM462 364h1v1h-1zM464 364h1v1h-1zM466 364h1v1h-1zM468 364h1v1h-1zM470 364h1v1h-1zM472 364h1v1h-1zM474 364h1v1h-1zM476 364h1v1h-1zM478 364h1v1h-1zM480 364h1v1h-1zM482 364h1v1h-1zM484 364h1v1h-1zM486 364h1v1h-1zM488 364h1v1h-1zM490 364h1v1h-1zM492 364h1v1h-1zM494 364h1v1h-1zM496 364h1v1h-1zM498 364h1v1h-1zM500 364h1v1h-1zM502 364h1v1h-1zM504 364h1v1h-1zM506 364h1v1h-1zM508 364h1v1h-1zM510 364h1v1h-1zM512 364h1v1h-1zM514 364h1v1h-1zM516 364h1v1h-1zM518 364h1v1h-1zM520 364h1v1h-1zM522 364h1v1h-1zM524 364h1v1h-1zM526 364h1v1h-1zM528 364h1v1h-1zM530 364h1v1h-1zM532 364h1v1h-1zM534 364h1v1h-1zM536 364h1v1h-1zM538 364h1v1h-1zM540 364h1v1h-1zM542 364h1v1h-1zM544 364h1v1h-1zM546 364h1v1h-1zM548 364h1v1h-1zM550 364h1v1h-1zM552 364h1v1h-1zM554 364h1v1h-1zM556 364h1v1h-1zM558 364h1v1h-1zM560 364h1v1h-1zM562 364h1v1h-1zM564 364h1v1h-1zM566 364h1v1h-1zM568 364h1v1h-1zM570 364h1v1h-1zM572 364h1v1h-1zM574 364h1v1h-1zM576 364h1v1h-1zM578 364h1v1h-1zM580 364h1v1h-1zM582 364h1v1h-1zM584 364h1v1h-1zM586 364h1v1h-1zM588 364h1v1h-1zM590 364h1v1h-1zM592 364h1v1h-1zM594 364h1v1h-1zM596 364h1v1h-1zM598 364h1v1h-1zM600 364h1v1h-1zM602 364h1v1h-1zM604 364h1v1h-1zM606 364h1v1h-1zM608 364h1v1h-1zM610 364h1v1h-1zM612 364h1v1h-1zM614 364h1v1h-1zM616 364h1v1h-1zM618 364h1v1h-1zM620 364h1v1h-1zM622 364h1v1h-1zM624 364h1v1h-1zM626 364h1v1h-1zM628 364h1v1h-1zM630 364h1v1h-1zM632 364h1v1h-1zM634 364h1v1h-1zM636 364h1v1h-1zM638 364h1v1h-1zM640 364h1v1h-1zM642 364h1v1h-1zM644 364h1v1h-1zM646 364h1v1h-1zM648 364h1v1h-1zM650 364h1v1h-1zM652 364h1v1h-1zM654 364h1v1h-1zM656 364h1v1h-1zM658 364h1v1h-1zM660 364h1v1h-1zM662 364h1v1h-1zM664 364h1v1h-1zM666 364h1v1h-1zM668 364h1v1h-1zM670 364h1v1h-1zM672 364h1v1h-1zM674 364h1v1h-1zM676 364h1v1h-1zM678 364h1v1h-1zM680 364h1v1h-1zM682 364h1v1h-1zM684 364h1v1h-1zM686 364h1v1h-1zM688 364h1v1h-1zM690 364h1v1h-1zM692 364h1v1h-1zM694 364h1v1h-1zM696 364h1v1h-1zM698 364h1v1h-1zM700 364h1v1h-1zM702 364h1v1h-1zM704 364h1v1h-1zM706 364h1v1h-1zM708 364h1v1h-1zM710 364h1v1h-1zM712 364h1v1h-1zM714 364h1v1h-1zM716 364h1v1h-1zM718 364h1v1h-1zM720 364h1v1h-1zM722 364h1v1h-1zM724 364h1v1h-1zM726 364h1v1h-1zM728 364h1v1h-1zM730 364h1v1h-1zM732 364h1v1h-1zM734 364h1v1h-1zM736 364h1v1h-1zM738 364h1v1h-1zM740 364h1v1h-1zM742 364h1v1h-1zM744 364h1v1h-1zM746 364h1v1h-1zM748 364h1v1h-1zM750 364h1v1h-1zM752 364h1v1h-1zM754 364h1v1h-1zM52 468h1v1h-1zM54 468h1v1h-1zM56 468h1v1h-1zM58 468h1v1h-1zM60 468h1v1h-1zM62 468h1v1h-1zM64 468h1v1h-1zM66 468h1v1h-1zM68 468h1v1h-1zM70 468h1v1h-1zM72 468h1v1h-1zM74 468h1v1h-1zM76 468h1v1h-1zM78 468h1v1h-1zM80 468h1v1h-1zM82 468h1v1h-1zM84 468h1v1h-1zM86 468h1v1h-1zM88 468h1v1h-1zM90 468h1v1h-1zM92 468h1v1h-1zM94 468h1v1h-1zM96 468h1v1h-1zM98 468h1v1h-1zM100 468h1v1h-1zM102 468h1v1h-1zM104 468h1v1h-1zM106 468h1v1h-1zM108 468h1v1h-1zM110 468h1v1h-1zM112 468h1v1h-1zM114 468h1v1h-1zM116 468h1v1h-1zM118 468h1v1h-1zM120 468h1v1h-1zM122 468h1v1h-1zM124 468h1v1h-1zM126 468h1v1h-1zM128 468h1v1h-1zM130 468h1v1h-1zM132 468h1v1h-1zM134 468h1v1h-1zM136 468h1v1h-1zM138 468h1v1h-1zM140 468h1v1h-1zM142 468h1v1h-1zM144 468h1v1h-1zM146 468h1v1h-1zM148 468h1v1h-1zM150 468h1v1h-1zM152 468h1v1h-1zM154 468h1v1h-1zM156 468h1v1h-1zM158 468h1v1h-1zM160 468h1v1h-1zM162 468h1v1h-1zM164 468h1v1h-1zM166 468h1v1h-1zM168 468h1v1h-1zM170 468h1v1h-1zM172 468h1v1h-1zM174 468h1v1h-1zM176 468h1v1h-1zM178 468h1v1h-1zM180 468h1v1h-1zM182 468h1v1h-1zM184 468h1v1h-1zM186 468h1v1h-1zM188 468h1v1h-1zM190 468h1v1h-1zM192 468h1v1h-1zM194 468h1v1h-1zM196 468h1v1h-1zM198 468h1v1h-1zM200 468h1v1h-1zM202 468h1v1h-1zM204 468h1v1h-1zM206 468h1v1h-1zM208 468h1v1h-1zM210 468h1v1h-1zM212 468h1v1h-1zM214 468h1v1h-1zM216 468h1v1h-1zM218 468h1v1h-1zM220 468h1v1h-1zM222 468h1v1h-1zM224 468h1v1h-1zM226 468h1v1h-1zM228 468h1v1h-1zM230 468h1v1h-1zM232 468h1v1h-1zM234 468h1v1h-1zM236 468h1v1h-1zM238 468h1v1h-1zM240 468h1v1h-1zM242 468h1v1h-1zM244 468h1v1h-1zM246 468h1v1h-1zM248 468h1v1h-1zM250 468h1v1h-1zM252 468h1v1h-1zM254 468h1v1h-1zM256 468h1v1h-1zM258 468h1v1h-1zM260 468h1v1h-1zM262 468h1v1h-1zM264 468h1v1h-1zM266 468h1v1h-1zM268 468h1v1h-1zM270 468h1v1h-1zM272 468h1v1h-1zM274 468h1v1h-1zM276 468h1v1h-1zM278 468h1v1h-1zM280 468h1v1h-1zM282 468h1v1h-1zM284 468h1v1h-1zM286 468h1v1h-1zM288 468h1v1h-1zM290 468h1v1h-1zM292 468h1v1h-1zM294 468h1v1h-1zM296 468h1v1h-1zM298 468h1v1h-1zM300 468h1v1h-1zM302 468h1v1h-1zM304 468h1v1h-1zM306 468h1v1h-1zM308 468h1v1h-1zM310 468h1v1h-1zM312 468h1v1h-1zM314 468h1v1h-1zM316 468h1v1h-1zM318 468h1v1h-1zM320 468h1v1h-1zM322 468h1v1h-1zM324 468h1v1h-1zM326 468h1v1h-1zM328 468h1v1h-1zM330 468h1v1h-1zM332 468h1v1h-1zM334 468h1v1h-1zM336 468h1v1h-1zM338 468h1v1h-1zM340 468h1v1h-1zM342 468h1v1h-1zM344 468h1v1h-1zM346 468h1v1h-1zM348 468h1v1h-1zM350 468h1v1h-1zM352 468h1v1h-1zM354 468h1v1h-1zM356 468h1v1h-1zM358 468h1v1h-1zM360 468h1v1h-1zM362 468h1v1h-1zM364 468h1v1h-1zM366 468h1v1h-1zM368 468h1v1h-1zM370 468h1v1h-1zM372 468h1v1h-1zM374 468h1v1h-1zM376 468h1v1h-1zM378 468h1v1h-1zM380 468h1v1h-1zM382 468h1v1h-1zM384 468h1v1h-1zM386 468h1v1h-1zM388 468h1v1h-1zM390 468h1v1h-1zM392 468h1v1h-1zM394 468h1v1h-1zM396 468h1v1h-1zM398 468h1v1h-1zM400 468h1v1h-1zM402 468h1v1h-1zM404 468h1v1h-1zM406 468h1v1h-1zM408 468h1v1h-1zM410 468h1v1h-1zM412 468h1v1h-1zM414 468h1v1h-1zM416 468h1v1h-1zM418 468h1v1h-1zM420 468h1v1h-1zM422 468h1v1h-1zM424 468h1v1h-1zM426 468h1v1h-1zM428 468h1v1h-1zM430 468h1v1h-1zM432 468h1v1h-1zM434 468h1v1h-1zM436 468h1v1h-1zM438 468h1v1h-1zM440 468h1v1h-1zM442 468h1v1h-1zM444 468h1v1h-1zM446 468h1v1h-1zM448 468h1v1h-1zM450 468h1v1h-1zM452 468h1v1h-1zM454 468h1v1h-1zM456 468h1v1h-1zM458 468h1v1h-1zM460 468h1v1h-1zM462 468h1v1h-1zM464 468h1v1h-1zM466 468h1v1h-1zM468 468h1v1h-1zM470 468h1v1h-1zM472 468h1v1h-1zM474 468h1v1h-1zM476 468h1v1h-1zM478 468h1v1h-1zM480 468h1v1h-1zM482 468h1v1h-1zM484 468h1v1h-1zM486 468h1v1h-1zM488 468h1v1h-1zM490 468h1v1h-1zM492 468h1v1h-1zM494 468h1v1h-1zM496 468h1v1h-1zM498 468h1v1h-1zM500 468h1v1h-1zM502 468h1v1h-1zM504 468h1v1h-1zM506 468h1v1h-1zM508 468h1v1h-1zM510 468h1v1h-1zM512 468h1v1h-1zM514 468h1v1h-1zM516 468h1v1h-1zM518 468h1v1h-1zM520 468h1v1h-1zM522 468h1v1h-1zM524 468h1v1h-1zM526 468h1v1h-1zM528 468h1v1h-1zM530 468h1v1h-1zM532 468h1v1h-1zM534 468h1v1h-1zM536 468h1v1h-1zM538 468h1v1h-1zM540 468h1v1h-1zM542 468h1v1h-1zM544 468h1v1h-1zM546 468h1v1h-1zM548 468h1v1h-1zM550 468h1v1h-1zM552 468h1v1h-1zM554 468h1v1h-1zM556 468h1v1h-1zM558 468h1v1h-1zM560 468h1v1h-1zM562 468h1v1h-1zM564 468h1v1h-1zM566 468h1v1h-1zM568 468h1v1h-1zM570 468h1v1h-1zM572 468h1v1h-1zM574 468h1v1h-1zM576 468h1v1h-1zM578 468h1v1h-1zM580 468h1v1h-1zM582 468h1v1h-1zM584 468h1v1h-1zM586 468h1v1h-1zM588 468h1v1h-1zM590 468h1v1h-1zM592 468h1v1h-1zM594 468h1v1h-1zM596 468h1v1h-1zM598 468h1v1h-1zM600 468h1v1h-1zM602 468h1v1h-1zM604 468h1v1h-1zM606 468h1v1h-1zM608 468h1v1h-1zM610 468h1v1h-1zM612 468h1v1h-1zM614 468h1v1h-1zM616 468h1v1h-1zM618 468h1v1h-1zM620 468h1v1h-1zM622 468h1v1h-1zM624 468h1v1h-1zM626 468h1v1h-1zM628 468h1v1h-1zM630 468h1v1h-1zM632 468h1v1h-1zM634 468h1v1h-1zM636 468h1v1h-1zM638 468h1v1h-1zM640 468h1v1h-1zM642 468h1v1h-1zM644 468h1v1h-1zM646 468h1v1h-1zM648 468h1v1h-1zM650 468h1v1h-1zM652 468h1v1h-1zM654 468h1v1h-1zM656 468h1v1h-1zM658 468h1v1h-1zM660 468h1v1h-1zM662 468h1v1h-1zM664 468h1v1h-1zM666 468h1v1h-1zM668 468h1v1h-1zM52 572h1v1h-1zM54 572h1v1h-1zM56 572h1v1h-1zM58 572h1v1h-1zM60 572h1v1h-1zM62 572h1v1h-1zM64 572h1v1h-1zM66 572h1v1h-1zM68 572h1v1h-1zM70 572h1v1h-1zM72 572h1v1h-1zM74 572h1v1h-1zM76 572h1v1h-1zM78 572h1v1h-1zM80 572h1v1h-1zM82 572h1v1h-1zM84 572h1v1h-1zM86 572h1v1h-1zM88 572h1v1h-1zM90 572h1v1h-1zM92 572h1v1h-1zM94 572h1v1h-1zM96 572h1v1h-1zM98 572h1v1h-1zM100 572h1v1h-1zM102 572h1v1h-1zM104 572h1v1h-1zM106 572h1v1h-1zM108 572h1v1h-1zM110 572h1v1h-1zM112 572h1v1h-1zM114 572h1v1h-1zM116 572h1v1h-1zM118 572h1v1h-1zM120 572h1v1h-1zM122 572h1v1h-1zM124 572h1v1h-1zM126 572h1v1h-1zM128 572h1v1h-1zM130 572h1v1h-1zM132 572h1v1h-1zM134 572h1v1h-1zM136 572h1v1h-1zM138 572h1v1h-1zM140 572h1v1h-1zM142 572h1v1h-1zM144 572h1v1h-1zM146 572h1v1h-1zM148 572h1v1h-1zM150 572h1v1h-1zM152 572h1v1h-1zM154 572h1v1h-1zM156 572h1v1h-1zM158 572h1v1h-1zM160 572h1v1h-1zM162 572h1v1h-1zM164 572h1v1h-1zM166 572h1v1h-1zM168 572h1v1h-1zM170 572h1v1h-1zM172 572h1v1h-1zM174 572h1v1h-1zM176 572h1v1h-1zM178 572h1v1h-1zM180 572h1v1h-1zM182 572h1v1h-1zM184 572h1v1h-1zM186 572h1v1h-1zM188 572h1v1h-1zM190 572h1v1h-1zM192 572h1v1h-1zM194 572h1v1h-1zM196 572h1v1h-1zM198 572h1v1h-1zM200 572h1v1h-1zM202 572h1v1h-1zM204 572h1v1h-1zM206 572h1v1h-1zM208 572h1v1h-1zM210 572h1v1h-1zM212 572h1v1h-1zM214 572h1v1h-1zM216 572h1v1h-1zM218 572h1v1h-1zM220 572h1v1h-1zM222 572h1v1h-1zM224 572h1v1h-1zM226 572h1v1h-1zM228 572h1v1h-1zM230 572h1v1h-1zM232 572h1v1h-1zM234 572h1v1h-1zM236 572h1v1h-1zM238 572h1v1h-1zM240 572h1v1h-1zM242 572h1v1h-1zM244 572h1v1h-1zM246 572h1v1h-1zM248 572h1v1h-1zM250 572h1v1h-1zM252 572h1v1h-1zM254 572h1v1h-1zM256 572h1v1h-1zM258 572h1v1h-1zM260 572h1v1h-1zM262 572h1v1h-1zM264 572h1v1h-1zM266 572h1v1h-1zM268 572h1v1h-1zM270 572h1v1h-1zM272 572h1v1h-1zM274 572h1v1h-1zM276 572h1v1h-1zM278 572h1v1h-1zM280 572h1v1h-1zM282 572h1v1h-1zM284 572h1v1h-1zM286 572h1v1h-1zM288 572h1v1h-1zM290 572h1v1h-1zM292 572h1v1h-1zM294 572h1v1h-1zM296 572h1v1h-1zM298 572h1v1h-1zM300 572h1v1h-1zM302 572h1v1h-1zM304 572h1v1h-1zM306 572h1v1h-1zM308 572h1v1h-1zM310 572h1v1h-1zM312 572h1v1h-1zM314 572h1v1h-1zM316 572h1v1h-1zM318 572h1v1h-1zM320 572h1v1h-1zM322 572h1v1h-1zM324 572h1v1h-1zM326 572h1v1h-1zM328 572h1v1h-1zM330 572h1v1h-1zM332 572h1v1h-1zM334 572h1v1h-1zM336 572h1v1h-1zM338 572h1v1h-1zM340 572h1v1h-1zM342 572h1v1h-1zM344 572h1v1h-1zM346 572h1v1h-1zM348 572h1v1h-1zM350 572h1v1h-1zM352 572h1v1h-1zM354 572h1v1h-1zM356 572h1v1h-1zM358 572h1v1h-1zM360 572h1v1h-1zM362 572h1v1h-1zM364 572h1v1h-1zM366 572h1v1h-1zM368 572h1v1h-1zM370 572h1v1h-1zM372 572h1v1h-1zM374 572h1v1h-1zM376 572h1v1h-1zM378 572h1v1h-1zM380 572h1v1h-1zM382 572h1v1h-1zM384 572h1v1h-1zM386 572h1v1h-1zM388 572h1v1h-1zM390 572h1v1h-1zM392 572h1v1h-1zM394 572h1v1h-1zM396 572h1v1h-1zM398 572h1v1h-1zM400 572h1v1h-1zM402 572h1v1h-1zM404 572h1v1h-1zM406 572h1v1h-1zM408 572h1v1h-1zM410 572h1v1h-1zM412 572h1v1h-1zM414 572h1v1h-1zM416 572h1v1h-1zM418 572h1v1h-1zM420 572h1v1h-1zM422 572h1v1h-1zM424 572h1v1h-1zM426 572h1v1h-1zM428 572h1v1h-1zM430 572h1v1h-1zM432 572h1v1h-1zM434 572h1v1h-1zM436 572h1v1h-1zM438 572h1v1h-1zM440 572h1v1h-1zM442 572h1v1h-1zM444 572h1v1h-1zM446 572h1v1h-1zM448 572h1v1h-1zM450 572h1v1h-1zM452 572h1v1h-1zM454 572h1v1h-1zM456 572h1v1h-1zM458 572h1v1h-1zM460 572h1v1h-1zM462 572h1v1h-1zM464 572h1v1h-1zM466 572h1v1h-1zM468 572h1v1h-1zM470 572h1v1h-1zM472 572h1v1h-1zM474 572h1v1h-1zM476 572h1v1h-1zM478 572h1v1h-1zM480 572h1v1h-1zM482 572h1v1h-1zM484 572h1v1h-1zM486 572h1v1h-1zM488 572h1v1h-1zM490 572h1v1h-1zM492 572h1v1h-1zM494 572h1v1h-1zM496 572h1v1h-1zM498 572h1v1h-1zM500 572h1v1h-1zM502 572h1v1h-1zM504 572h1v1h-1zM506 572h1v1h-1zM508 572h1v1h-1zM510 572h1v1h-1zM512 572h1v1h-1zM514 572h1v1h-1zM516 572h1v1h-1zM518 572h1v1h-1zM520 572h1v1h-1zM522 572h1v1h-1zM524 572h1v1h-1zM526 572h1v1h-1zM528 572h1v1h-1zM530 572h1v1h-1zM532 572h1v1h-1zM534 572h1v1h-1zM536 572h1v1h-1zM538 572h1v1h-1zM540 572h1v1h-1zM542 572h1v1h-1zM544 572h1v1h-1zM546 572h1v1h-1zM548 572h1v1h-1zM550 572h1v1h-1zM552 572h1v1h-1zM554 572h1v1h-1zM556 572h1v1h-1zM558 572h1v1h-1zM560 572h1v1h-1zM562 572h1v1h-1zM564 572h1v1h-1zM566 572h1v1h-1zM568 572h1v1h-1zM570 572h1v1h-1zM572 572h1v1h-1zM574 572h1v1h-1zM576 572h1v1h-1zM52 676h1v1h-1zM54 676h1v1h-1zM56 676h1v1h-1zM58 676h1v1h-1zM60 676h1v1h-1zM62 676h1v1h-1zM64 676h1v1h-1zM66 676h1v1h-1zM68 676h1v1h-1zM70 676h1v1h-1zM72 676h1v1h-1zM74 676h1v1h-1zM76 676h1v1h-1zM78 676h1v1h-1zM80 676h1v1h-1zM82 676h1v1h-1zM84 676h1v1h-1zM86 676h1v1h-1zM88 676h1v1h-1zM90 676h1v1h-1zM92 676h1v1h-1zM94 676h1v1h-1zM96 676h1v1h-1zM98 676h1v1h-1zM100 676h1v1h-1zM102 676h1v1h-1zM104 676h1v1h-1zM106 676h1v1h-1zM108 676h1v1h-1zM110 676h1v1h-1zM112 676h1v1h-1zM114 676h1v1h-1zM116 676h1v1h-1zM118 676h1v1h-1zM120 676h1v1h-1zM122 676h1v1h-1zM124 676h1v1h-1zM126 676h1v1h-1zM128 676h1v1h-1zM130 676h1v1h-1zM132 676h1v1h-1zM134 676h1v1h-1zM136 676h1v1h-1zM138 676h1v1h-1zM140 676h1v1h-1zM142 676h1v1h-1zM144 676h1v1h-1zM146 676h1v1h-1zM148 676h1v1h-1zM150 676h1v1h-1zM152 676h1v1h-1zM154 676h1v1h-1zM156 676h1v1h-1zM158 676h1v1h-1zM160 676h1v1h-1zM162 676h1v1h-1zM164 676h1v1h-1zM166 676h1v1h-1zM168 676h1v1h-1zM170 676h1v1h-1zM172 676h1v1h-1zM174 676h1v1h-1zM176 676h1v1h-1zM178 676h1v1h-1zM180 676h1v1h-1zM182 676h1v1h-1zM184 676h1v1h-1zM186 676h1v1h-1zM188 676h1v1h-1zM190 676h1v1h-1zM192 676h1v1h-1zM194 676h1v1h-1zM196 676h1v1h-1zM198 676h1v1h-1zM200 676h1v1h-1zM202 676h1v1h-1zM204 676h1v1h-1zM206 676h1v1h-1zM208 676h1v1h-1zM210 676h1v1h-1zM212 676h1v1h-1zM214 676h1v1h-1zM216 676h1v1h-1zM218 676h1v1h-1zM220 676h1v1h-1zM222 676h1v1h-1zM224 676h1v1h-1zM226 676h1v1h-1zM228 676h1v1h-1zM230 676h1v1h-1zM232 676h1v1h-1zM234 676h1v1h-1zM236 676h1v1h-1zM238 676h1v1h-1zM240 676h1v1h-1zM242 676h1v1h-1zM244 676h1v1h-1zM246 676h1v1h-1zM248 676h1v1h-1zM250 676h1v1h-1zM252 676h1v1h-1zM254 676h1v1h-1zM256 676h1v1h-1zM258 676h1v1h-1zM260 676h1v1h-1zM262 676h1v1h-1zM264 676h1v1h-1zM130 352h1v1h-1zM130 354h1v1h-1zM130 356h1v1h-1zM130 358h1v1h-1zM130 360h1v1h-1zM130 362h1v1h-1zM130 364h1v1h-1zM130 366h1v1h-1zM130 368h1v1h-1zM130 370h1v1h-1zM130 372h1v1h-1zM130 374h1v1h-1zM130 376h1v1h-1zM130 378h1v1h-1zM130 380h1v1h-1zM130 382h1v1h-1zM130 384h1v1h-1zM130 386h1v1h-1zM130 388h1v1h-1zM130 390h1v1h-1zM130 392h1v1h-1zM130 394h1v1h-1zM130 396h1v1h-1zM130 398h1v1h-1zM130 400h1v1h-1zM130 402h1v1h-1zM130 404h1v1h-1zM130 406h1v1h-1zM130 408h1v1h-1zM130 410h1v1h-1zM130 412h1v1h-1zM130 414h1v1h-1zM130 416h1v1h-1zM130 418h1v1h-1zM130 420h1v1h-1zM130 422h1v1h-1zM130 424h1v1h-1zM130 426h1v1h-1zM130 428h1v1h-1zM130 430h1v1h-1zM130 432h1v1h-1zM130 434h1v1h-1zM130 436h1v1h-1zM130 438h1v1h-1zM130 440h1v1h-1zM130 442h1v1h-1zM130 444h1v1h-1zM130 446h1v1h-1zM130 448h1v1h-1zM130 450h1v1h-1zM130 452h1v1h-1zM130 454h1v1h-1zM130 456h1v1h-1zM130 458h1v1h-1zM130 460h1v1h-1zM130 462h1v1h-1zM130 464h1v1h-1zM130 466h1v1h-1zM130 468h1v1h-1zM130 470h1v1h-1zM130 472h1v1h-1zM130 474h1v1h-1zM130 476h1v1h-1zM130 478h1v1h-1zM130 480h1v1h-1zM130 482h1v1h-1zM130 484h1v1h-1zM130 486h1v1h-1zM130 488h1v1h-1zM130 490h1v1h-1zM130 492h1v1h-1zM130 494h1v1h-1zM130 496h1v1h-1zM130 498h1v1h-1zM130 500h1v1h-1zM130 502h1v1h-1zM130 504h1v1h-1zM130 506h1v1h-1zM130 508h1v1h-1zM130 510h1v1h-1zM130 512h1v1h-1zM130 514h1v1h-1zM130 516h1v1h-1zM130 518h1v1h-1zM130 520h1v1h-1zM130 522h1v1h-1zM130 524h1v1h-1zM130 526h1v1h-1zM130 528h1v1h-1zM130 530h1v1h-1zM130 532h1v1h-1zM130 534h1v1h-1zM130 536h1v1h-1zM130 538h1v1h-1zM130 540h1v1h-1zM130 542h1v1h-1zM130 544h1v1h-1zM130 546h1v1h-1zM130 548h1v1h-1zM130 550h1v1h-1zM130 552h1v1h-1zM130 554h1v1h-1zM130 556h1v1h-1zM130 558h1v1h-1zM130 624h1v1h-1zM130 626h1v1h-1zM130 628h1v1h-1zM130 630h1v1h-1zM130 632h1v1h-1zM130 634h1v1h-1zM130 636h1v1h-1zM130 638h1v1h-1zM130 640h1v1h-1zM130 642h1v1h-1zM130 644h1v1h-1zM130 646h1v1h-1zM130 648h1v1h-1zM130 650h1v1h-1zM130 678h1v1h-1zM130 680h1v1h-1zM130 682h1v1h-1zM130 684h1v1h-1zM130 686h1v1h-1zM130 688h1v1h-1zM234 2h1v1h-1zM234 4h1v1h-1zM234 6h1v1h-1zM234 8h1v1h-1zM234 10h1v1h-1zM234 12h1v1h-1zM234 14h1v1h-1zM234 16h1v1h-1zM234 18h1v1h-1zM234 20h1v1h-1zM234 22h1v1h-1zM234 24h1v1h-1zM234 26h1v1h-1zM234 28h1v1h-1zM234 30h1v1h-1zM234 32h1v1h-1zM234 34h1v1h-1zM234 36h1v1h-1zM234 38h1v1h-1zM234 40h1v1h-1zM234 42h1v1h-1zM234 44h1v1h-1zM234 46h1v1h-1zM234 48h1v1h-1zM234 50h1v1h-1zM234 52h1v1h-1zM234 66h1v1h-1zM234 68h1v1h-1zM234 70h1v1h-1zM234 72h1v1h-1zM234 74h1v1h-1zM234 76h1v1h-1zM234 78h1v1h-1zM234 80h1v1h-1zM234 82h1v1h-1zM234 84h1v1h-1zM234 86h1v1h-1zM234 88h1v1h-1zM234 90h1v1h-1zM234 92h1v1h-1zM234 94h1v1h-1zM234 96h1v1h-1zM234 98h1v1h-1zM234 100h1v1h-1zM234 102h1v1h-1zM234 104h1v1h-1zM234 340h1v1h-1zM234 342h1v1h-1zM234 344h1v1h-1zM234 346h1v1h-1zM234 348h1v1h-1zM234 350h1v1h-1zM234 352h1v1h-1zM234 354h1v1h-1zM234 356h1v1h-1zM234 358h1v1h-1zM234 360h1v1h-1zM234 362h1v1h-1zM234 364h1v1h-1zM234 366h1v1h-1zM234 368h1v1h-1zM234 370h1v1h-1zM234 372h1v1h-1zM234 374h1v1h-1zM234 376h1v1h-1zM234 378h1v1h-1zM234 380h1v1h-1zM234 382h1v1h-1zM234 384h1v1h-1zM234 386h1v1h-1zM234 388h1v1h-1zM234 390h1v1h-1zM234 392h1v1h-1zM234 394h1v1h-1zM234 396h1v1h-1zM234 398h1v1h-1zM234 400h1v1h-1zM234 402h1v1h-1zM234 404h1v1h-1zM234 406h1v1h-1zM234 408h1v1h-1zM234 410h1v1h-1zM234 412h1v1h-1zM234 414h1v1h-1zM234 416h1v1h-1zM234 418h1v1h-1zM234 420h1v1h-1zM234 422h1v1h-1zM234 424h1v1h-1zM234 426h1v1h-1zM234 428h1v1h-1zM234 430h1v1h-1zM234 432h1v1h-1zM234 434h1v1h-1zM234 436h1v1h-1zM234 438h1v1h-1zM234 440h1v1h-1zM234 442h1v1h-1zM234 444h1v1h-1zM234 446h1v1h-1zM234 448h1v1h-1zM234 450h1v1h-1zM234 452h1v1h-1zM234 454h1v1h-1zM234 456h1v1h-1zM234 458h1v1h-1zM234 460h1v1h-1zM234 462h1v1h-1zM234 464h1v1h-1zM234 466h1v1h-1zM234 468h1v1h-1zM234 470h1v1h-1zM234 472h1v1h-1zM234 474h1v1h-1zM234 476h1v1h-1zM234 478h1v1h-1zM234 480h1v1h-1zM234 482h1v1h-1zM234 484h1v1h-1zM234 486h1v1h-1zM234 488h1v1h-1zM234 490h1v1h-1zM234 492h1v1h-1zM234 494h1v1h-1zM234 496h1v1h-1zM234 498h1v1h-1zM234 500h1v1h-1zM234 502h1v1h-1zM234 504h1v1h-1zM234 506h1v1h-1zM234 508h1v1h-1zM234 510h1v1h-1zM234 512h1v1h-1zM234 514h1v1h-1zM234 516h1v1h-1zM234 518h1v1h-1zM234 520h1v1h-1zM234 522h1v1h-1zM234 524h1v1h-1zM234 526h1v1h-1zM234 528h1v1h-1zM234 530h1v1h-1zM234 532h1v1h-1zM234 534h1v1h-1zM234 536h1v1h-1zM234 538h1v1h-1zM234 540h1v1h-1zM234 542h1v1h-1zM234 544h1v1h-1zM234 546h1v1h-1zM234 548h1v1h-1zM234 550h1v1h-1zM234 552h1v1h-1zM234 554h1v1h-1zM234 556h1v1h-1zM234 558h1v1h-1zM234 560h1v1h-1zM234 562h1v1h-1zM234 564h1v1h-1zM234 566h1v1h-1zM234 568h1v1h-1zM234 570h1v1h-1zM234 572h1v1h-1zM234 574h1v1h-1zM234 576h1v1h-1zM234 578h1v1h-1zM234 580h1v1h-1zM234 582h1v1h-1zM234 584h1v1h-1zM234 586h1v1h-1zM234 588h1v1h-1zM234 590h1v1h-1zM234 592h1v1h-1zM234 594h1v1h-1zM234 596h1v1h-1zM234 598h1v1h-1zM234 600h1v1h-1zM234 602h1v1h-1zM234 604h1v1h-1zM234 606h1v1h-1zM234 608h1v1h-1zM234 610h1v1h-1zM234 612h1v1h-1zM234 614h1v1h-1zM234 616h1v1h-1zM234 618h1v1h-1zM234 620h1v1h-1zM234 622h1v1h-1zM234 624h1v1h-1zM234 626h1v1h-1zM234 628h1v1h-1zM234 630h1v1h-1zM234 632h1v1h-1zM234 634h1v1h-1zM234 636h1v1h-1zM234 638h1v1h-1zM234 640h1v1h-1zM234 642h1v1h-1zM234 644h1v1h-1zM234 646h1v1h-1zM234 648h1v1h-1zM234 650h1v1h-1zM234 652h1v1h-1zM234 654h1v1h-1zM234 656h1v1h-1zM234 658h1v1h-1zM234 660h1v1h-1zM234 662h1v1h-1zM234 664h1v1h-1zM234 666h1v1h-1zM234 668h1v1h-1zM234 670h1v1h-1zM234 672h1v1h-1zM234 674h1v1h-1zM234 676h1v1h-1zM234 678h1v1h-1zM234 680h1v1h-1zM234 682h1v1h-1zM234 684h1v1h-1zM234 686h1v1h-1zM234 688h1v1h-1zM338 2h1v1h-1zM338 4h1v1h-1zM338 6h1v1h-1zM338 8h1v1h-1zM338 10h1v1h-1zM338 12h1v1h-1zM338 14h1v1h-1zM338 16h1v1h-1zM338 18h1v1h-1zM338 20h1v1h-1zM338 22h1v1h-1zM338 24h1v1h-1zM338 26h1v1h-1zM338 28h1v1h-1zM338 30h1v1h-1zM338 32h1v1h-1zM338 34h1v1h-1zM338 36h1v1h-1zM338 38h1v1h-1zM338 40h1v1h-1zM338 42h1v1h-1zM338 44h1v1h-1zM338 46h1v1h-1zM338 48h1v1h-1zM338 50h1v1h-1zM338 52h1v1h-1zM338 54h1v1h-1zM338 56h1v1h-1zM338 58h1v1h-1zM338 60h1v1h-1zM338 62h1v1h-1zM338 64h1v1h-1zM338 66h1v1h-1zM338 68h1v1h-1zM338 70h1v1h-1zM338 72h1v1h-1zM338 74h1v1h-1zM338 76h1v1h-1zM338 78h1v1h-1zM338 80h1v1h-1zM338 82h1v1h-1zM338 84h1v1h-1zM338 86h1v1h-1zM338 88h1v1h-1zM338 90h1v1h-1zM338 92h1v1h-1zM338 94h1v1h-1zM338 96h1v1h-1zM338 98h1v1h-1zM338 100h1v1h-1zM338 102h1v1h-1zM338 104h1v1h-1zM338 106h1v1h-1zM338 108h1v1h-1zM338 110h1v1h-1zM338 112h1v1h-1zM338 114h1v1h-1zM338 116h1v1h-1zM338 118h1v1h-1zM338 120h1v1h-1zM338 122h1v1h-1zM338 124h1v1h-1zM338 126h1v1h-1zM338 128h1v1h-1zM338 130h1v1h-1zM338 132h1v1h-1zM338 134h1v1h-1zM338 136h1v1h-1zM338 138h1v1h-1zM338 140h1v1h-1zM338 142h1v1h-1zM338 144h1v1h-1zM338 146h1v1h-1zM338 148h1v1h-1zM338 150h1v1h-1zM338 152h1v1h-1zM338 154h1v1h-1zM338 156h1v1h-1zM338 158h1v1h-1zM338 160h1v1h-1zM338 162h1v1h-1zM338 164h1v1h-1zM338 166h1v1h-1zM338 168h1v1h-1zM338 170h1v1h-1zM338 172h1v1h-1zM338 174h1v1h-1zM338 176h1v1h-1zM338 178h1v1h-1zM338 180h1v1h-1zM338 182h1v1h-1zM338 184h1v1h-1zM338 186h1v1h-1zM338 188h1v1h-1zM338 190h1v1h-1zM338 192h1v1h-1zM338 194h1v1h-1zM338 196h1v1h-1zM338 198h1v1h-1zM338 200h1v1h-1zM338 202h1v1h-1zM338 204h1v1h-1zM338 206h1v1h-1zM338 208h1v1h-1zM338 210h1v1h-1zM338 212h1v1h-1zM338 214h1v1h-1zM338 216h1v1h-1zM338 218h1v1h-1zM338 220h1v1h-1zM338 222h1v1h-1zM338 224h1v1h-1zM338 226h1v1h-1zM338 228h1v1h-1zM338 230h1v1h-1zM338 232h1v1h-1zM338 234h1v1h-1zM338 236h1v1h-1zM338 238h1v1h-1zM338 240h1v1h-1zM338 242h1v1h-1zM338 244h1v1h-1zM338 246h1v1h-1zM338 248h1v1h-1zM338 250h1v1h-1zM338 252h1v1h-1zM338 254h1v1h-1zM338 256h1v1h-1zM338 258h1v1h-1zM338 260h1v1h-1zM338 262h1v1h-1zM338 264h1v1h-1zM338 266h1v1h-1zM338 268h1v1h-1zM338 270h1v1h-1zM338 272h1v1h-1zM338 274h1v1h-1zM338 276h1v1h-1zM338 278h1v1h-1zM338 280h1v1h-1zM338 282h1v1h-1zM338 284h1v1h-1zM338 286h1v1h-1zM338 288h1v1h-1zM338 290h1v1h-1zM338 292h1v1h-1zM338 294h1v1h-1zM338 296h1v1h-1zM338 298h1v1h-1zM338 300h1v1h-1zM338 302h1v1h-1zM338 304h1v1h-1zM338 306h1v1h-1zM338 308h1v1h-1zM338 310h1v1h-1zM338 312h1v1h-1zM338 314h1v1h-1zM338 316h1v1h-1zM338 318h1v1h-1zM338 320h1v1h-1zM338 322h1v1h-1zM338 324h1v1h-1zM338 326h1v1h-1zM338 328h1v1h-1zM338 330h1v1h-1zM338 332h1v1h-1zM338 334h1v1h-1zM338 336h1v1h-1zM338 338h1v1h-1zM338 340h1v1h-1zM338 342h1v1h-1zM338 344h1v1h-1zM338 346h1v1h-1zM338 348h1v1h-1zM338 350h1v1h-1zM338 352h1v1h-1zM338 354h1v1h-1zM338 356h1v1h-1zM338 358h1v1h-1zM338 360h1v1h-1zM338 362h1v1h-1zM338 364h1v1h-1zM338 366h1v1h-1zM338 368h1v1h-1zM338 370h1v1h-1zM338 372h1v1h-1zM338 374h1v1h-1zM338 376h1v1h-1zM338 378h1v1h-1zM338 380h1v1h-1zM338 382h1v1h-1zM338 384h1v1h-1zM338 386h1v1h-1zM338 388h1v1h-1zM338 390h1v1h-1zM338 392h1v1h-1zM338 394h1v1h-1zM338 396h1v1h-1zM338 398h1v1h-1zM338 400h1v1h-1zM338 402h1v1h-1zM338 404h1v1h-1zM338 406h1v1h-1zM338 408h1v1h-1zM338 410h1v1h-1zM338 412h1v1h-1zM338 414h1v1h-1zM338 416h1v1h-1zM338 418h1v1h-1zM338 420h1v1h-1zM338 422h1v1h-1zM338 424h1v1h-1zM338 426h1v1h-1zM338 428h1v1h-1zM338 430h1v1h-1zM338 432h1v1h-1zM338 434h1v1h-1zM338 436h1v1h-1zM338 438h1v1h-1zM338 440h1v1h-1zM338 442h1v1h-1zM338 444h1v1h-1zM338 446h1v1h-1zM338 448h1v1h-1zM338 450h1v1h-1zM338 452h1v1h-1zM338 454h1v1h-1zM338 456h1v1h-1zM338 458h1v1h-1zM338 460h1v1h-1zM338 462h1v1h-1zM338 464h1v1h-1zM338 466h1v1h-1zM338 468h1v1h-1zM338 470h1v1h-1zM338 472h1v1h-1zM338 474h1v1h-1zM338 476h1v1h-1zM338 478h1v1h-1zM338 480h1v1h-1zM338 482h1v1h-1zM338 484h1v1h-1zM338 486h1v1h-1zM338 488h1v1h-1zM338 490h1v1h-1zM338 492h1v1h-1zM338 494h1v1h-1zM338 508h1v1h-1zM338 510h1v1h-1zM338 512h1v1h-1zM338 514h1v1h-1zM338 516h1v1h-1zM338 518h1v1h-1zM338 520h1v1h-1zM338 522h1v1h-1zM338 524h1v1h-1zM338 526h1v1h-1zM338 528h1v1h-1zM338 530h1v1h-1zM338 532h1v1h-1zM338 534h1v1h-1zM338 536h1v1h-1zM338 538h1v1h-1zM338 540h1v1h-1zM338 542h1v1h-1zM338 544h1v1h-1zM338 546h1v1h-1zM338 548h1v1h-1zM338 550h1v1h-1zM338 552h1v1h-1zM338 554h1v1h-1zM338 556h1v1h-1zM338 558h1v1h-1zM338 560h1v1h-1zM338 562h1v1h-1zM338 564h1v1h-1zM338 566h1v1h-1zM338 568h1v1h-1zM338 570h1v1h-1zM338 572h1v1h-1zM338 574h1v1h-1zM338 576h1v1h-1zM338 578h1v1h-1zM338 580h1v1h-1zM338 582h1v1h-1zM338 584h1v1h-1zM338 586h1v1h-1zM338 588h1v1h-1zM338 590h1v1h-1zM338 592h1v1h-1zM338 594h1v1h-1zM338 596h1v1h-1zM338 598h1v1h-1zM442 118h1v1h-1zM442 120h1v1h-1zM442 122h1v1h-1zM442 124h1v1h-1zM442 126h1v1h-1zM442 128h1v1h-1zM442 130h1v1h-1zM442 132h1v1h-1zM442 134h1v1h-1zM442 136h1v1h-1zM442 138h1v1h-1zM442 140h1v1h-1zM442 142h1v1h-1zM442 144h1v1h-1zM442 146h1v1h-1zM442 148h1v1h-1zM442 150h1v1h-1zM442 152h1v1h-1zM442 154h1v1h-1zM442 156h1v1h-1zM442 158h1v1h-1zM442 160h1v1h-1zM442 162h1v1h-1zM442 164h1v1h-1zM442 166h1v1h-1zM442 168h1v1h-1zM442 170h1v1h-1zM442 172h1v1h-1zM442 174h1v1h-1zM442 176h1v1h-1zM442 178h1v1h-1zM442 180h1v1h-1zM442 182h1v1h-1zM442 184h1v1h-1zM442 186h1v1h-1zM442 188h1v1h-1zM442 190h1v1h-1zM442 192h1v1h-1zM442 194h1v1h-1zM442 196h1v1h-1zM442 198h1v1h-1zM442 200h1v1h-1zM442 202h1v1h-1zM442 204h1v1h-1zM442 206h1v1h-1zM442 208h1v1h-1zM442 210h1v1h-1zM442 212h1v1h-1zM442 214h1v1h-1zM442 216h1v1h-1zM442 218h1v1h-1zM442 220h1v1h-1zM442 222h1v1h-1zM442 224h1v1h-1zM442 226h1v1h-1zM442 228h1v1h-1zM442 230h1v1h-1zM442 232h1v1h-1zM442 234h1v1h-1zM442 236h1v1h-1zM442 238h1v1h-1zM442 240h1v1h-1zM442 242h1v1h-1zM442 244h1v1h-1zM442 246h1v1h-1zM442 248h1v1h-1zM442 250h1v1h-1zM442 252h1v1h-1zM442 254h1v1h-1zM442 256h1v1h-1zM442 258h1v1h-1zM442 260h1v1h-1zM442 262h1v1h-1zM442 264h1v1h-1zM442 266h1v1h-1zM442 268h1v1h-1zM442 270h1v1h-1zM442 272h1v1h-1zM442 274h1v1h-1zM442 276h1v1h-1zM442 278h1v1h-1zM442 280h1v1h-1zM442 282h1v1h-1zM442 284h1v1h-1zM442 286h1v1h-1zM442 288h1v1h-1zM442 290h1v1h-1zM442 292h1v1h-1zM442 294h1v1h-1zM442 296h1v1h-1zM442 298h1v1h-1zM442 300h1v1h-1zM442 302h1v1h-1zM442 304h1v1h-1zM442 306h1v1h-1zM442 308h1v1h-1zM442 310h1v1h-1zM442 312h1v1h-1zM442 314h1v1h-1zM442 316h1v1h-1zM442 318h1v1h-1zM442 320h1v1h-1zM442 322h1v1h-1zM442 324h1v1h-1zM442 326h1v1h-1zM442 328h1v1h-1zM442 330h1v1h-1zM442 332h1v1h-1zM442 334h1v1h-1zM442 336h1v1h-1zM442 338h1v1h-1zM442 340h1v1h-1zM442 342h1v1h-1zM442 344h1v1h-1zM442 346h1v1h-1zM442 348h1v1h-1zM442 350h1v1h-1zM442 352h1v1h-1zM442 354h1v1h-1zM442 356h1v1h-1zM442 358h1v1h-1zM442 360h1v1h-1zM442 362h1v1h-1zM442 364h1v1h-1zM442 366h1v1h-1zM442 368h1v1h-1zM442 370h1v1h-1zM442 372h1v1h-1zM442 374h1v1h-1zM442 376h1v1h-1zM442 378h1v1h-1zM442 380h1v1h-1zM442 382h1v1h-1zM442 384h1v1h-1zM442 386h1v1h-1zM442 388h1v1h-1zM442 390h1v1h-1zM442 392h1v1h-1zM442 394h1v1h-1zM442 396h1v1h-1zM442 398h1v1h-1zM442 400h1v1h-1zM442 402h1v1h-1zM442 404h1v1h-1zM442 406h1v1h-1zM442 408h1v1h-1zM442 410h1v1h-1zM442 412h1v1h-1zM442 414h1v1h-1zM442 416h1v1h-1zM442 418h1v1h-1zM442 420h1v1h-1zM442 422h1v1h-1zM442 424h1v1h-1zM442 426h1v1h-1zM442 428h1v1h-1zM442 430h1v1h-1zM442 432h1v1h-1zM442 434h1v1h-1zM442 436h1v1h-1zM442 438h1v1h-1zM442 440h1v1h-1zM442 442h1v1h-1zM442 444h1v1h-1zM442 446h1v1h-1zM442 448h1v1h-1zM442 450h1v1h-1zM442 452h1v1h-1zM442 454h1v1h-1zM442 456h1v1h-1zM442 458h1v1h-1zM442 460h1v1h-1zM442 462h1v1h-1zM442 464h1v1h-1zM442 466h1v1h-1zM442 468h1v1h-1zM442 470h1v1h-1zM442 472h1v1h-1zM442 474h1v1h-1zM442 476h1v1h-1zM442 478h1v1h-1zM442 480h1v1h-1zM442 482h1v1h-1zM442 484h1v1h-1zM442 486h1v1h-1zM442 488h1v1h-1zM442 490h1v1h-1zM442 492h1v1h-1zM442 494h1v1h-1zM442 496h1v1h-1zM442 498h1v1h-1zM442 500h1v1h-1zM442 502h1v1h-1zM442 504h1v1h-1zM442 506h1v1h-1zM442 508h1v1h-1zM442 510h1v1h-1zM442 512h1v1h-1zM442 514h1v1h-1zM442 516h1v1h-1zM442 518h1v1h-1zM442 520h1v1h-1zM442 522h1v1h-1zM442 524h1v1h-1zM442 526h1v1h-1zM442 528h1v1h-1zM442 530h1v1h-1zM442 532h1v1h-1zM442 534h1v1h-1zM442 536h1v1h-1zM442 538h1v1h-1zM442 540h1v1h-1zM442 542h1v1h-1zM442 544h1v1h-1zM442 546h1v1h-1zM442 548h1v1h-1zM442 550h1v1h-1zM442 552h1v1h-1zM442 554h1v1h-1zM442 556h1v1h-1zM442 558h1v1h-1zM442 560h1v1h-1zM442 562h1v1h-1zM442 564h1v1h-1zM442 566h1v1h-1zM442 568h1v1h-1zM442 570h1v1h-1zM442 572h1v1h-1zM442 574h1v1h-1zM442 576h1v1h-1zM442 578h1v1h-1zM442 580h1v1h-1zM442 582h1v1h-1zM442 584h1v1h-1zM442 586h1v1h-1zM442 588h1v1h-1zM442 590h1v1h-1zM442 592h1v1h-1zM442 594h1v1h-1zM442 596h1v1h-1zM442 598h1v1h-1zM546 196h1v1h-1zM546 198h1v1h-1zM546 200h1v1h-1zM546 202h1v1h-1zM546 204h1v1h-1zM546 206h1v1h-1zM546 208h1v1h-1zM546 210h1v1h-1zM546 212h1v1h-1zM546 214h1v1h-1zM546 216h1v1h-1zM546 218h1v1h-1zM546 220h1v1h-1zM546 222h1v1h-1zM546 224h1v1h-1zM546 226h1v1h-1zM546 228h1v1h-1zM546 230h1v1h-1zM546 232h1v1h-1zM546 234h1v1h-1zM546 236h1v1h-1zM546 238h1v1h-1zM546 240h1v1h-1zM546 242h1v1h-1zM546 244h1v1h-1zM546 246h1v1h-1zM546 248h1v1h-1zM546 250h1v1h-1zM546 252h1v1h-1zM546 254h1v1h-1zM546 256h1v1h-1zM546 258h1v1h-1zM546 260h1v1h-1zM546 262h1v1h-1zM546 264h1v1h-1zM546 266h1v1h-1zM546 268h1v1h-1zM546 270h1v1h-1zM546 272h1v1h-1zM546 274h1v1h-1zM546 276h1v1h-1zM546 278h1v1h-1zM546 280h1v1h-1zM546 282h1v1h-1zM546 284h1v1h-1zM546 286h1v1h-1zM546 288h1v1h-1zM546 290h1v1h-1zM546 292h1v1h-1zM546 294h1v1h-1zM546 296h1v1h-1zM546 298h1v1h-1zM546 300h1v1h-1zM546 302h1v1h-1zM546 304h1v1h-1zM546 306h1v1h-1zM546 308h1v1h-1zM546 310h1v1h-1zM546 312h1v1h-1zM546 314h1v1h-1zM546 316h1v1h-1zM546 318h1v1h-1zM546 320h1v1h-1zM546 322h1v1h-1zM546 324h1v1h-1zM546 326h1v1h-1zM546 328h1v1h-1zM546 330h1v1h-1zM546 332h1v1h-1zM546 334h1v1h-1zM546 336h1v1h-1zM546 338h1v1h-1zM546 340h1v1h-1zM546 342h1v1h-1zM546 344h1v1h-1zM546 346h1v1h-1zM546 348h1v1h-1zM546 350h1v1h-1zM546 352h1v1h-1zM546 354h1v1h-1zM546 356h1v1h-1zM546 358h1v1h-1zM546 360h1v1h-1zM546 362h1v1h-1zM546 364h1v1h-1zM546 366h1v1h-1zM546 368h1v1h-1zM546 370h1v1h-1zM546 372h1v1h-1zM546 374h1v1h-1zM546 376h1v1h-1zM546 378h1v1h-1zM546 380h1v1h-1zM546 382h1v1h-1zM546 384h1v1h-1zM546 386h1v1h-1zM546 388h1v1h-1zM546 390h1v1h-1zM546 392h1v1h-1zM546 394h1v1h-1zM546 396h1v1h-1zM546 398h1v1h-1zM546 400h1v1h-1zM546 402h1v1h-1zM546 404h1v1h-1zM546 406h1v1h-1zM546 408h1v1h-1zM546 410h1v1h-1zM546 412h1v1h-1zM546 414h1v1h-1zM546 416h1v1h-1zM546 418h1v1h-1zM546 420h1v1h-1zM546 422h1v1h-1zM546 424h1v1h-1zM546 426h1v1h-1zM546 428h1v1h-1zM546 430h1v1h-1zM546 432h1v1h-1zM546 434h1v1h-1zM546 436h1v1h-1zM546 438h1v1h-1zM546 440h1v1h-1zM546 442h1v1h-1zM546 444h1v1h-1zM546 446h1v1h-1zM546 448h1v1h-1zM546 450h1v1h-1zM546 452h1v1h-1zM546 454h1v1h-1zM546 456h1v1h-1zM546 458h1v1h-1zM546 460h1v1h-1zM546 462h1v1h-1zM546 464h1v1h-1zM546 466h1v1h-1zM546 468h1v1h-1zM546 470h1v1h-1zM546 472h1v1h-1zM546 474h1v1h-1zM546 476h1v1h-1zM546 478h1v1h-1zM546 480h1v1h-1zM546 482h1v1h-1zM546 484h1v1h-1zM546 486h1v1h-1zM546 488h1v1h-1zM546 490h1v1h-1zM546 492h1v1h-1zM546 494h1v1h-1zM546 496h1v1h-1zM546 498h1v1h-1zM546 500h1v1h-1zM546 502h1v1h-1zM546 504h1v1h-1zM546 506h1v1h-1zM546 508h1v1h-1zM546 510h1v1h-1zM546 512h1v1h-1zM546 514h1v1h-1zM546 516h1v1h-1zM546 518h1v1h-1zM546 520h1v1h-1zM546 522h1v1h-1zM546 524h1v1h-1zM546 526h1v1h-1zM546 528h1v1h-1zM546 530h1v1h-1zM546 532h1v1h-1zM546 534h1v1h-1zM546 536h1v1h-1zM546 538h1v1h-1zM546 540h1v1h-1zM546 542h1v1h-1zM546 544h1v1h-1zM546 546h1v1h-1zM546 548h1v1h-1zM546 550h1v1h-1zM546 552h1v1h-1zM546 554h1v1h-1zM546 556h1v1h-1zM546 558h1v1h-1zM546 560h1v1h-1zM546 562h1v1h-1zM546 564h1v1h-1zM546 566h1v1h-1zM546 568h1v1h-1zM546 570h1v1h-1zM546 572h1v1h-1zM546 574h1v1h-1zM546 576h1v1h-1zM546 578h1v1h-1zM546 580h1v1h-1zM546 582h1v1h-1zM546 584h1v1h-1zM546 586h1v1h-1zM546 588h1v1h-1zM546 590h1v1h-1zM546 592h1v1h-1zM546 594h1v1h-1zM546 596h1v1h-1zM546 598h1v1h-1zM650 170h1v1h-1zM650 172h1v1h-1zM650 174h1v1h-1zM650 176h1v1h-1zM650 178h1v1h-1zM650 180h1v1h-1zM650 182h1v1h-1zM650 184h1v1h-1zM650 186h1v1h-1zM650 188h1v1h-1zM650 190h1v1h-1zM650 192h1v1h-1zM650 194h1v1h-1zM650 196h1v1h-1zM650 198h1v1h-1zM650 200h1v1h-1zM650 202h1v1h-1zM650 204h1v1h-1zM650 206h1v1h-1zM650 208h1v1h-1zM650 210h1v1h-1zM650 212h1v1h-1zM650 214h1v1h-1zM650 216h1v1h-1zM650 218h1v1h-1zM650 220h1v1h-1zM650 222h1v1h-1zM650 224h1v1h-1zM650 226h1v1h-1zM650 228h1v1h-1zM650 230h1v1h-1zM650 232h1v1h-1zM650 234h1v1h-1zM650 248h1v1h-1zM650 250h1v1h-1zM650 252h1v1h-1zM650 254h1v1h-1zM650 256h1v1h-1zM650 258h1v1h-1zM650 260h1v1h-1zM650 262h1v1h-1zM650 264h1v1h-1zM650 266h1v1h-1zM650 268h1v1h-1zM650 270h1v1h-1zM650 272h1v1h-1zM650 274h1v1h-1zM650 276h1v1h-1zM650 278h1v1h-1zM650 280h1v1h-1zM650 282h1v1h-1zM650 284h1v1h-1zM650 286h1v1h-1zM650 288h1v1h-1zM650 290h1v1h-1zM650 292h1v1h-1zM650 294h1v1h-1zM650 296h1v1h-1zM650 298h1v1h-1zM650 300h1v1h-1zM650 302h1v1h-1zM650 304h1v1h-1zM650 306h1v1h-1zM650 308h1v1h-1zM650 310h1v1h-1zM650 312h1v1h-1zM650 314h1v1h-1zM650 316h1v1h-1zM650 318h1v1h-1zM650 320h1v1h-1zM650 322h1v1h-1zM650 324h1v1h-1zM650 326h1v1h-1zM650 328h1v1h-1zM650 330h1v1h-1zM650 332h1v1h-1zM650 334h1v1h-1zM650 336h1v1h-1zM650 338h1v1h-1zM650 340h1v1h-1zM650 342h1v1h-1zM650 344h1v1h-1zM650 346h1v1h-1zM650 348h1v1h-1zM650 350h1v1h-1zM650 352h1v1h-1zM650 354h1v1h-1zM650 356h1v1h-1zM650 358h1v1h-1zM650 360h1v1h-1zM650 362h1v1h-1zM650 364h1v1h-1zM650 366h1v1h-1zM650 368h1v1h-1zM650 370h1v1h-1zM650 372h1v1h-1zM650 374h1v1h-1zM650 376h1v1h-1zM650 378h1v1h-1zM650 380h1v1h-1zM650 382h1v1h-1zM650 384h1v1h-1zM650 386h1v1h-1zM650 388h1v1h-1zM650 390h1v1h-1zM650 392h1v1h-1zM650 394h1v1h-1zM650 396h1v1h-1zM650 398h1v1h-1zM650 400h1v1h-1zM650 402h1v1h-1zM650 404h1v1h-1zM650 406h1v1h-1zM650 408h1v1h-1zM650 410h1v1h-1zM650 412h1v1h-1zM650 414h1v1h-1zM650 416h1v1h-1zM650 418h1v1h-1zM650 420h1v1h-1zM650 422h1v1h-1zM650 424h1v1h-1zM650 426h1v1h-1zM650 428h1v1h-1zM650 430h1v1h-1zM650 432h1v1h-1zM650 434h1v1h-1zM650 436h1v1h-1zM650 438h1v1h-1zM650 440h1v1h-1zM650 442h1v1h-1zM650 444h1v1h-1zM650 446h1v1h-1zM650 448h1v1h-1zM650 450h1v1h-1zM650 452h1v1h-1zM650 454h1v1h-1zM650 456h1v1h-1zM650 458h1v1h-1zM650 460h1v1h-1zM650 462h1v1h-1zM650 464h1v1h-1zM650 466h1v1h-1zM650 468h1v1h-1zM650 470h1v1h-1zM650 472h1v1h-1zM650 474h1v1h-1zM650 476h1v1h-1zM650 478h1v1h-1zM650 480h1v1h-1zM650 482h1v1h-1zM650 484h1v1h-1zM650 486h1v1h-1zM650 488h1v1h-1zM650 490h1v1h-1zM754 338h1v1h-1zM754 340h1v1h-1zM754 342h1v1h-1zM754 344h1v1h-1zM754 346h1v1h-1zM754 348h1v1h-1zM754 350h1v1h-1zM754 352h1v1h-1zM754 354h1v1h-1zM754 356h1v1h-1zM754 358h1v1h-1zM754 360h1v1h-1zM754 362h1v1h-1zM754 364h1v1h-1zM754 366h1v1h-1zM754 368h1v1h-1zM754 370h1v1h-1zM754 372h1v1h-1zM754 374h1v1h-1zM754 376h1v1h-1zM754 378h1v1h-1zM754 380h1v1h-1zM754 382h1v1h-1zM754 384h1v1h-1zM754 386h1v1h-1zM754 388h1v1h-1zM754 390h1v1h-1z"/>
<path d="M305 29h1v1h-1zM304 30h3v1h-3zM304 31h3v1h-3zM303 32h5v1h-5zM303 33h5v1h-5zM302 34h7v1h-7zM301 35h9v1h-9zM301 36h9v1h-9zM300 37h11v1h-11zM239 418h3v1h-3zM237 419h2v1h-2zM242 419h2v1h-2zM236 420h1v1h-1zM244 420h1v1h-1zM236 421h1v1h-1zM244 421h1v1h-1zM235 422h1v1h-1zM245 422h1v1h-1zM235 423h1v1h-1zM245 423h1v1h-1zM235 424h1v1h-1zM245 424h1v1h-1zM236 425h1v1h-1zM244 425h1v1h-1zM236 426h1v1h-1zM244 426h1v1h-1zM237 427h2v1h-2zM242 427h2v1h-2zM239 428h3v1h-3zM383 432h1v1h-1zM382 433h3v1h-3zM382 434h3v1h-3zM381 435h5v1h-5zM381 436h5v1h-5zM380 437h7v1h-7zM379 438h9v1h-9zM379 439h9v1h-9zM378 440h11v1h-11zM392 432h9v1h-9zM392 440h9v1h-9zM392 433h1v7h-1zM400 433h1v7h-1zM383 445h1v1h-1zM382 446h3v1h-3zM382 447h3v1h-3zM381 448h5v1h-5zM381 449h5v1h-5zM380 450h7v1h-7zM379 451h9v1h-9zM379 452h9v1h-9zM378 453h11v1h-11zM396 445h1v1h-1zM395 446h3v1h-3zM395 447h3v1h-3zM394 448h5v1h-5zM394 449h5v1h-5zM393 450h7v1h-7zM392 451h9v1h-9zM392 452h9v1h-9zM391 453h11v1h-11zM409 445h1v1h-1zM408 446h3v1h-3zM408 447h3v1h-3zM407 448h5v1h-5zM407 449h5v1h-5zM406 450h7v1h-7zM405 451h9v1h-9zM405 452h9v1h-9zM404 453h11v1h-11zM396 458h1v1h-1zM395 459h3v1h-3zM395 460h3v1h-3zM394 461h5v1h-5zM394 462h5v1h-5zM393 463h7v1h-7zM392 464h9v1h-9zM392 465h9v1h-9zM391 466h11v1h-11zM408 457h3v1h-3zM406 458h7v1h-7zM405 459h9v1h-9zM405 460h9v1h-9zM404 461h11v1h-11zM404 462h11v1h-11zM404 463h11v1h-11zM405 464h9v1h-9zM405 465h9v1h-9zM406 466h7v1h-7zM408 467h3v1h-3zM447 457h3v1h-3zM445 458h7v1h-7zM444 459h9v1h-9zM444 460h9v1h-9zM443 461h11v1h-11zM443 462h11v1h-11zM443 463h11v1h-11zM444 464h9v1h-9zM444 465h9v1h-9zM445 466h7v1h-7zM447 467h3v1h-3zM409 471h1v1h-1zM408 472h3v1h-3zM408 473h3v1h-3zM407 474h5v1h-5zM407 475h5v1h-5zM406 476h7v1h-7zM405 477h9v1h-9zM405 478h9v1h-9zM404 479h11v1h-11zM422 471h1v1h-1zM421 472h3v1h-3zM421 473h3v1h-3zM420 474h5v1h-5zM420 475h5v1h-5zM419 476h7v1h-7zM418 477h9v1h-9zM418 478h9v1h-9zM417 479h11v1h-11zM447 470h3v1h-3zM445 471h7v1h-7zM444 472h9v1h-9zM444 473h9v1h-9zM443 474h11v1h-11zM443 475h11v1h-11zM443 476h11v1h-11zM444 477h9v1h-9zM444 478h9v1h-9zM445 479h7v1h-7zM447 480h3v1h-3zM353 484h9v1h-9zM353 492h9v1h-9zM353 485h1v7h-1zM361 485h1v7h-1zM422 484h1v1h-1zM421 485h3v1h-3zM421 486h3v1h-3zM420 487h5v1h-5zM420 488h5v1h-5zM419 489h7v1h-7zM418 490h9v1h-9zM418 491h9v1h-9zM417 492h11v1h-11zM444 484h9v1h-9zM444 492h9v1h-9zM444 485h1v7h-1zM452 485h1v7h-1zM343 496h3v1h-3zM341 497h2v1h-2zM346 497h2v1h-2zM340 498h1v1h-1zM348 498h1v1h-1zM340 499h1v1h-1zM348 499h1v1h-1zM339 500h1v1h-1zM349 500h1v1h-1zM339 501h1v1h-1zM349 501h1v1h-1zM339 502h1v1h-1zM349 502h1v1h-1zM340 503h1v1h-1zM348 503h1v1h-1zM340 504h1v1h-1zM348 504h1v1h-1zM341 505h2v1h-2zM346 505h2v1h-2zM343 506h3v1h-3zM396 497h1v1h-1zM395 498h3v1h-3zM395 499h3v1h-3zM394 500h5v1h-5zM394 501h5v1h-5zM393 502h7v1h-7zM392 503h9v1h-9zM392 504h9v1h-9zM391 505h11v1h-11zM422 497h1v1h-1zM421 498h3v1h-3zM421 499h3v1h-3zM420 500h5v1h-5zM420 501h5v1h-5zM419 502h7v1h-7zM418 503h9v1h-9zM418 504h9v1h-9zM417 505h11v1h-11zM435 497h1v1h-1zM434 498h3v1h-3zM434 499h3v1h-3zM433 500h5v1h-5zM433 501h5v1h-5zM432 502h7v1h-7zM431 503h9v1h-9zM431 504h9v1h-9zM430 505h11v1h-11zM473 496h3v1h-3zM471 497h2v1h-2zM476 497h2v1h-2zM470 498h1v1h-1zM478 498h1v1h-1zM470 499h1v1h-1zM478 499h1v1h-1zM469 500h1v1h-1zM479 500h1v1h-1zM469 501h1v1h-1zM479 501h1v1h-1zM469 502h1v1h-1zM479 502h1v1h-1zM470 503h1v1h-1zM478 503h1v1h-1zM470 504h1v1h-1zM478 504h1v1h-1zM471 505h2v1h-2zM476 505h2v1h-2zM473 506h3v1h-3zM422 510h1v1h-1zM421 511h3v1h-3zM421 512h3v1h-3zM420 513h5v1h-5zM420 514h5v1h-5zM419 515h7v1h-7zM418 516h9v1h-9zM418 517h9v1h-9zM417 518h11v1h-11zM435 510h1v1h-1zM434 511h3v1h-3zM434 512h3v1h-3zM433 513h5v1h-5zM433 514h5v1h-5zM432 515h7v1h-7zM431 516h9v1h-9zM431 517h9v1h-9zM430 518h11v1h-11zM448 510h1v1h-1zM447 511h3v1h-3zM447 512h3v1h-3zM446 513h5v1h-5zM446 514h5v1h-5zM445 515h7v1h-7zM444 516h9v1h-9zM444 517h9v1h-9zM443 518h11v1h-11zM448 523h1v1h-1zM447 524h3v1h-3zM447 525h3v1h-3zM446 526h5v1h-5zM446 527h5v1h-5zM445 528h7v1h-7zM444 529h9v1h-9zM444 530h9v1h-9zM443 531h11v1h-11zM422 549h1v1h-1zM421 550h3v1h-3zM421 551h3v1h-3zM420 552h5v1h-5zM420 553h5v1h-5zM419 554h7v1h-7zM418 555h9v1h-9zM418 556h9v1h-9zM417 557h11v1h-11zM447 548h3v1h-3zM445 549h2v1h-2zM450 549h2v1h-2zM444 550h1v1h-1zM452 550h1v1h-1zM444 551h1v1h-1zM452 551h1v1h-1zM443 552h1v1h-1zM453 552h1v1h-1zM443 553h1v1h-1zM453 553h1v1h-1zM443 554h1v1h-1zM453 554h1v1h-1zM444 555h1v1h-1zM452 555h1v1h-1zM444 556h1v1h-1zM452 556h1v1h-1zM445 557h2v1h-2zM450 557h2v1h-2zM447 558h3v1h-3zM736 536h1v1h-1zM735 537h1v1h-1zM737 537h1v1h-1zM735 538h1v1h-1zM737 538h1v1h-1zM734 539h1v1h-1zM738 539h1v1h-1zM734 540h1v1h-1zM738 540h1v1h-1zM733 541h1v1h-1zM739 541h1v1h-1zM732 542h1v1h-1zM740 542h1v1h-1zM732 543h1v1h-1zM740 543h1v1h-1zM731 544h11v1h-11zM735 548h3v1h-3zM733 549h2v1h-2zM738 549h2v1h-2zM732 550h1v1h-1zM740 550h1v1h-1zM732 551h1v1h-1zM740 551h1v1h-1zM731 552h1v1h-1zM741 552h1v1h-1zM731 553h1v1h-1zM741 553h1v1h-1zM731 554h1v1h-1zM741 554h1v1h-1zM732 555h1v1h-1zM740 555h1v1h-1zM732 556h1v1h-1zM740 556h1v1h-1zM733 557h2v1h-2zM738 557h2v1h-2zM735 558h3v1h-3zM732 562h9v1h-9zM732 570h9v1h-9zM732 563h1v7h-1zM740 563h1v7h-1zM736 575h1v1h-1zM735 576h3v1h-3zM735 577h3v1h-3zM734 578h5v1h-5zM734 579h5v1h-5zM733 580h7v1h-7zM732 581h9v1h-9zM732 582h9v1h-9zM731 583h11v1h-11zM735 587h3v1h-3zM733 588h7v1h-7zM732 589h9v1h-9zM732 590h9v1h-9zM731 591h11v1h-11zM731 592h11v1h-11zM731 593h11v1h-11zM732 594h9v1h-9zM732 595h9v1h-9zM733 596h7v1h-7zM735 597h3v1h-3zM732 601h9v9h-9z"/>
<path d="M155 50h2v1h-2zM154 51h4v1h-4zM155 52h2v1h-2z"/>
<path d="M192 49h2v1h-2zM191 50h2v1h-2zM190 51h1v1h-1z"/>
<path d="M195 152h2v1h-2zM194 153h4v1h-4zM195 154h2v1h-2z"/>
<path d="M232 151h2v1h-2zM231 152h2v1h-2zM230 153h1v1h-1z"/>
<path d="M191 258h2v1h-2zM190 259h4v1h-4zM191 260h2v1h-2z"/>
<path d="M228 257h2v1h-2zM227 258h2v1h-2zM226 259h1v1h-1z"/>
<path d="M50 362h2v1h-2zM49 363h4v1h-4zM50 364h2v1h-2z"/>
<path d="M87 361h2v1h-2zM86 362h2v1h-2zM85 363h1v1h-1z"/>
<path d="M710 468h2v1h-2zM709 469h4v1h-4zM710 470h2v1h-2z"/>
<path d="M747 467h2v1h-2zM746 468h2v1h-2zM745 469h1v1h-1z"/>
<path d="M623 572h2v1h-2zM622 573h4v1h-4zM623 574h2v1h-2z"/>
<path d="M660 571h2v1h-2zM659 572h2v1h-2zM658 573h1v1h-1z"/>
<path d="M311 676h2v1h-2zM310 677h4v1h-4zM311 678h2v1h-2z"/>
<path d="M348 675h2v1h-2zM347 676h2v1h-2zM346 677h1v1h-1z"/>
<path d="M127 288h1v2h-1zM128 287h1v4h-1zM129 288h1v2h-1z"/>
<path d="M231 284h1v2h-1zM232 283h1v4h-1zM233 284h1v2h-1z"/>
<path d="M336 614h1v2h-1zM337 613h1v4h-1zM338 614h1v2h-1z"/>
<path d="M439 610h1v2h-1zM440 609h1v4h-1zM441 610h1v2h-1z"/>
<path d="M543 610h1v2h-1zM544 609h1v4h-1zM545 610h1v2h-1z"/>
<path d="M648 503h1v2h-1zM649 502h1v4h-1zM650 503h1v2h-1z"/>
<rect x="455" y="26" width="461" height="1"/>
<rect x="455" y="65" width="462" height="1"/>
<path d="M736 524h1v7h-1zM732 525h2v1h-2zM739 525h2v1h-2zM734 526h1v1h-1zM738 526h1v1h-1zM735 527h3v1h-3zM734 528h1v1h-1zM738 528h1v1h-1zM732 529h2v1h-2zM739 529h2v1h-2z"/>
<rect x="20" y="695" width="2" height="2"/>
<path d="M460 56h9v1h-9zM463 57h2v1h-2zM463 58h2v1h-2zM463 59h2v1h-2zM463 60h2v1h-2zM463 61h2v1h-2zM463 62h2v1h-2zM459 63h11v1h-11zM479 54h4v1h-4zM479 55h4v1h-4zM472 56h2v1h-2zM473 57h2v1h-2zM480 57h2v1h-2zM473 58h2v1h-2zM480 58h2v1h-2zM480 59h2v1h-2zM479 60h2v1h-2zM479 61h2v1h-2zM478 62h2v1h-2zM476 63h3v1h-3zM474 64h3v1h-3zM488 54h2v1h-2zM488 55h2v1h-2zM488 56h2v1h-2zM488 57h2v1h-2zM488 58h5v1h-5zM488 59h2v1h-2zM492 59h2v1h-2zM488 60h2v1h-2zM488 61h2v1h-2zM488 62h2v1h-2zM488 63h2v1h-2zM488 64h2v1h-2zM502 54h2v1h-2zM502 55h2v1h-2zM498 56h10v1h-10zM498 57h2v1h-2zM506 57h2v1h-2zM498 58h2v1h-2zM506 58h2v1h-2zM498 59h2v1h-2zM506 59h2v1h-2zM498 60h2v1h-2zM506 60h2v1h-2zM506 61h2v1h-2zM505 62h2v1h-2zM503 63h2v1h-2zM500 64h3v1h-3zM515 54h2v1h-2zM515 55h2v1h-2zM511 56h10v1h-10zM511 57h2v1h-2zM519 57h2v1h-2zM511 58h2v1h-2zM519 58h2v1h-2zM511 59h2v1h-2zM519 59h2v1h-2zM511 60h2v1h-2zM519 60h2v1h-2zM519 61h2v1h-2zM518 62h2v1h-2zM516 63h2v1h-2zM513 64h3v1h-3zM525 55h9v1h-9zM529 56h2v1h-2zM529 57h2v1h-2zM529 58h2v1h-2zM524 59h11v1h-11zM529 60h2v1h-2zM529 61h2v1h-2zM528 62h2v1h-2zM527 63h2v1h-2zM525 64h3v1h-3zM537 56h2v1h-2zM545 56h2v1h-2zM538 57h2v1h-2zM545 57h2v1h-2zM538 58h2v1h-2zM545 58h2v1h-2zM545 59h2v1h-2zM544 60h2v1h-2zM544 61h2v1h-2zM543 62h2v1h-2zM541 63h3v1h-3zM539 64h3v1h-3zM554 54h2v1h-2zM554 55h2v1h-2zM550 56h10v1h-10zM550 57h2v1h-2zM558 57h2v1h-2zM550 58h2v1h-2zM558 58h2v1h-2zM550 59h2v1h-2zM558 59h2v1h-2zM550 60h2v1h-2zM558 60h2v1h-2zM558 61h2v1h-2zM557 62h2v1h-2zM555 63h2v1h-2zM552 64h3v1h-3zM713 67h1v1h-1zM715 67h1v1h-1zM713 68h1v1h-1zM715 68h1v1h-1zM707 69h1v1h-1zM707 70h1v1h-1zM712 70h1v1h-1zM707 71h1v1h-1zM713 71h1v1h-1zM707 72h1v1h-1zM713 72h1v1h-1zM707 73h1v1h-1zM714 73h1v1h-1zM706 74h1v1h-1zM714 74h1v1h-1zM706 75h1v1h-1zM714 75h1v1h-1zM705 76h1v1h-1zM714 76h1v1h-1zM719 68h7v1h-7zM718 71h9v1h-9zM726 72h1v1h-1zM726 73h1v1h-1zM725 74h1v1h-1zM725 75h1v1h-1zM723 76h2v1h-2zM720 77h3v1h-3zM737 67h1v1h-1zM731 68h2v1h-2zM737 68h1v1h-1zM731 69h1v1h-1zM735 69h1v1h-1zM737 69h1v1h-1zM731 70h1v1h-1zM737 70h1v1h-1zM729 71h5v1h-5zM736 71h2v1h-2zM731 72h1v1h-1zM737 72h1v1h-1zM729 73h4v1h-4zM734 73h6v1h-6zM729 74h1v1h-1zM731 74h1v1h-1zM737 74h1v1h-1zM731 75h1v1h-1zM737 75h1v1h-1zM731 76h1v1h-1zM737 76h1v1h-1zM731 77h1v1h-1zM737 77h1v1h-1zM829 639h2v1h-2zM829 640h1v1h-1zM833 640h1v1h-1zM824 641h11v1h-11zM829 642h1v1h-1zM833 642h1v1h-1zM825 643h9v1h-9zM825 644h1v1h-1zM829 644h1v1h-1zM833 644h1v1h-1zM825 645h1v1h-1zM829 645h1v1h-1zM833 645h1v1h-1zM825 646h1v1h-1zM829 646h1v1h-1zM833 646h1v1h-1zM825 647h1v1h-1zM829 647h1v1h-1zM832 647h2v1h-2zM825 648h1v1h-1zM829 648h1v1h-1zM832 648h1v1h-1zM829 649h1v1h-1zM836 640h5v1h-5zM846 640h1v1h-1zM836 641h1v1h-1zM838 641h1v1h-1zM840 641h7v1h-7zM836 642h1v1h-1zM838 642h1v1h-1zM840 642h1v1h-1zM843 642h1v1h-1zM836 643h5v1h-5zM843 643h1v1h-1zM836 644h1v1h-1zM838 644h1v1h-1zM840 644h1v1h-1zM843 644h1v1h-1zM836 645h1v1h-1zM838 645h1v1h-1zM840 645h1v1h-1zM843 645h1v1h-1zM836 646h5v1h-5zM843 646h1v1h-1zM836 647h1v1h-1zM840 647h1v1h-1zM843 647h1v1h-1zM842 648h2v1h-2zM843 649h1v1h-1zM850 639h2v1h-2zM857 639h1v1h-1zM850 640h1v1h-1zM857 640h1v1h-1zM848 641h4v1h-4zM853 641h6v1h-6zM850 642h1v1h-1zM857 642h1v1h-1zM849 643h3v1h-3zM857 643h1v1h-1zM850 644h1v1h-1zM854 644h1v1h-1zM857 644h1v1h-1zM848 645h1v1h-1zM850 645h1v1h-1zM855 645h1v1h-1zM857 645h1v1h-1zM848 646h1v1h-1zM850 646h1v1h-1zM857 646h1v1h-1zM850 647h1v1h-1zM857 647h1v1h-1zM850 648h1v1h-1zM857 648h1v1h-1zM850 649h1v1h-1zM856 649h2v1h-2zM867 639h2v1h-2zM862 640h7v1h-7zM864 641h1v1h-1zM866 641h1v1h-1zM860 642h11v1h-11zM863 643h1v1h-1zM865 643h1v1h-1zM867 643h1v1h-1zM862 644h1v1h-1zM865 644h1v1h-1zM868 644h1v1h-1zM860 645h11v1h-11zM862 646h1v1h-1zM865 646h1v1h-1zM868 646h1v1h-1zM862 647h7v1h-7zM862 648h1v1h-1zM865 648h1v1h-1zM868 648h1v1h-1zM862 649h7v1h-7zM874 639h7v1h-7zM874 640h1v1h-1zM880 640h1v1h-1zM874 641h7v1h-7zM872 643h11v1h-11zM880 645h1v1h-1zM874 646h8v1h-8zM874 647h1v1h-1zM880 647h1v1h-1zM880 648h1v1h-1zM878 649h2v1h-2zM889 639h1v1h-1zM884 640h11v1h-11zM888 641h1v1h-1zM890 641h1v1h-1zM885 642h1v1h-1zM888 642h1v1h-1zM890 642h1v1h-1zM893 642h1v1h-1zM884 643h1v1h-1zM887 643h1v1h-1zM890 643h1v1h-1zM894 643h1v1h-1zM886 644h1v1h-1zM887 645h2v1h-2zM887 646h5v1h-5zM885 647h2v1h-2zM889 647h2v1h-2zM887 648h2v1h-2zM891 648h2v1h-2zM884 649h3v1h-3zM892 649h3v1h-3zM897 639h2v1h-2zM901 639h4v1h-4zM897 640h1v1h-1zM900 640h2v1h-2zM896 641h2v1h-2zM899 641h7v1h-7zM897 642h1v1h-1zM899 642h1v1h-1zM901 642h1v1h-1zM903 642h1v1h-1zM905 642h1v1h-1zM897 643h1v1h-1zM899 643h1v1h-1zM901 643h1v1h-1zM903 643h1v1h-1zM905 643h1v1h-1zM896 644h3v1h-3zM900 644h1v1h-1zM902 644h1v1h-1zM905 644h1v1h-1zM896 645h2v1h-2zM899 645h1v1h-1zM902 645h1v1h-1zM905 645h1v1h-1zM897 646h1v1h-1zM899 646h8v1h-8zM897 647h1v1h-1zM901 647h1v1h-1zM904 647h1v1h-1zM897 648h1v1h-1zM900 648h1v1h-1zM905 648h1v1h-1zM896 649h2v1h-2zM899 649h1v1h-1zM906 649h2v1h-2zM909 639h1v1h-1zM915 639h1v1h-1zM910 640h1v1h-1zM912 640h7v1h-7zM913 641h1v1h-1zM917 641h1v1h-1zM908 642h1v1h-1zM914 642h1v1h-1zM916 642h1v1h-1zM909 643h1v1h-1zM915 643h1v1h-1zM911 644h8v1h-8zM913 645h1v1h-1zM917 645h1v1h-1zM909 646h1v1h-1zM913 646h5v1h-5zM909 647h1v1h-1zM913 647h1v1h-1zM917 647h1v1h-1zM908 648h1v1h-1zM912 648h2v1h-2zM917 648h1v1h-1zM908 649h1v1h-1zM911 649h2v1h-2zM917 649h1v1h-1zM874 652h2v1h-2zM880 652h2v1h-2zM872 653h4v1h-4zM877 653h6v1h-6zM874 654h1v1h-1zM880 654h1v1h-1zM872 655h3v1h-3zM876 655h7v1h-7zM874 656h1v1h-1zM877 656h1v1h-1zM879 656h1v1h-1zM881 656h1v1h-1zM873 657h3v1h-3zM877 657h5v1h-5zM874 658h1v1h-1zM877 658h1v1h-1zM879 658h1v1h-1zM881 658h1v1h-1zM872 659h1v1h-1zM874 659h1v1h-1zM877 659h1v1h-1zM879 659h1v1h-1zM881 659h1v1h-1zM872 660h1v1h-1zM874 660h1v1h-1zM877 660h5v1h-5zM874 661h1v1h-1zM879 661h1v1h-1zM874 662h1v1h-1zM876 662h7v1h-7zM886 652h1v1h-1zM891 652h1v1h-1zM885 653h1v1h-1zM889 653h6v1h-6zM884 654h1v1h-1zM887 654h1v1h-1zM890 654h1v1h-1zM885 655h2v1h-2zM889 655h1v1h-1zM893 655h1v1h-1zM886 656h1v1h-1zM888 656h1v1h-1zM894 656h1v1h-1zM884 657h4v1h-4zM889 657h5v1h-5zM886 658h1v1h-1zM889 658h1v1h-1zM891 658h1v1h-1zM884 659h1v1h-1zM886 659h2v1h-2zM889 659h1v1h-1zM891 659h1v1h-1zM884 660h1v1h-1zM886 660h1v1h-1zM889 660h1v1h-1zM891 660h1v1h-1zM893 660h1v1h-1zM886 661h1v1h-1zM888 661h1v1h-1zM891 661h1v1h-1zM893 661h1v1h-1zM886 662h2v1h-2zM891 662h3v1h-3zM901 652h1v1h-1zM900 653h1v1h-1zM902 653h1v1h-1zM899 654h1v1h-1zM903 654h1v1h-1zM898 655h1v1h-1zM904 655h1v1h-1zM896 656h2v1h-2zM899 656h5v1h-5zM905 656h2v1h-2zM898 658h7v1h-7zM898 659h1v1h-1zM904 659h1v1h-1zM898 660h1v1h-1zM904 660h1v1h-1zM898 661h7v1h-7zM898 662h1v1h-1zM904 662h1v1h-1zM909 652h1v1h-1zM915 652h1v1h-1zM910 653h1v1h-1zM912 653h7v1h-7zM913 654h1v1h-1zM917 654h1v1h-1zM908 655h1v1h-1zM914 655h1v1h-1zM916 655h1v1h-1zM909 656h1v1h-1zM915 656h1v1h-1zM911 657h8v1h-8zM913 658h1v1h-1zM917 658h1v1h-1zM909 659h1v1h-1zM913 659h5v1h-5zM909 660h1v1h-1zM913 660h1v1h-1zM917 660h1v1h-1zM908 661h1v1h-1zM912 661h2v1h-2zM917 661h1v1h-1zM908 662h1v1h-1zM911 662h2v1h-2zM917 662h1v1h-1z"/>
</g>
<text class="lb" transform="translate(119.5,57.4) scale(1.36,1)">N</text><text class="lb" transform="translate(131.5,57.4) scale(1.36,1)">4</text><text class="lb" transform="translate(143.5,57.4) scale(1.36,1)">5</text><text class="lb" transform="translate(167.5,57.4) scale(1.36,1)">2</text><text class="lb" transform="translate(179.5,57.4) scale(1.36,1)">0</text>
<text class="lb" transform="translate(159.5,159.4) scale(1.36,1)">N</text><text class="lb" transform="translate(171.5,159.4) scale(1.36,1)">4</text><text class="lb" transform="translate(183.5,159.4) scale(1.36,1)">4</text><text class="lb" transform="translate(207.5,159.4) scale(1.36,1)">4</text><text class="lb" transform="translate(219.5,159.4) scale(1.36,1)">0</text>
<text class="lb" transform="translate(155.5,265.4) scale(1.36,1)">N</text><text class="lb" transform="translate(167.5,265.4) scale(1.36,1)">4</text><text class="lb" transform="translate(179.5,265.4) scale(1.36,1)">4</text><text class="lb" transform="translate(203.5,265.4) scale(1.36,1)">0</text><text class="lb" transform="translate(215.5,265.4) scale(1.36,1)">0</text>
<text class="lb" transform="translate(14.5,369.4) scale(1.36,1)">N</text><text class="lb" transform="translate(26.5,369.4) scale(1.36,1)">4</text><text class="lb" transform="translate(38.5,369.4) scale(1.36,1)">3</text><text class="lb" transform="translate(62.5,369.4) scale(1.36,1)">2</text><text class="lb" transform="translate(74.5,369.4) scale(1.36,1)">0</text>
<text class="lb" transform="translate(674.5,475.4) scale(1.36,1)">N</text><text class="lb" transform="translate(686.5,475.4) scale(1.36,1)">4</text><text class="lb" transform="translate(698.5,475.4) scale(1.36,1)">2</text><text class="lb" transform="translate(722.5,475.4) scale(1.36,1)">4</text><text class="lb" transform="translate(734.5,475.4) scale(1.36,1)">0</text>
<text class="lb" transform="translate(587.5,579.4) scale(1.36,1)">N</text><text class="lb" transform="translate(599.5,579.4) scale(1.36,1)">4</text><text class="lb" transform="translate(611.5,579.4) scale(1.36,1)">2</text><text class="lb" transform="translate(635.5,579.4) scale(1.36,1)">0</text><text class="lb" transform="translate(647.5,579.4) scale(1.36,1)">0</text>
<text class="lb" transform="translate(275.5,683.4) scale(1.36,1)">N</text><text class="lb" transform="translate(287.5,683.4) scale(1.36,1)">4</text><text class="lb" transform="translate(299.5,683.4) scale(1.36,1)">1</text><text class="lb" transform="translate(323.5,683.4) scale(1.36,1)">2</text><text class="lb" transform="translate(335.5,683.4) scale(1.36,1)">0</text>
<text class="lb" transform="translate(134.5,338) rotate(-90) scale(1.37,1)">E</text><text class="lb" transform="translate(134.5,326) rotate(-90) scale(1.37,1)">1</text><text class="lb" transform="translate(134.5,314) rotate(-90) scale(1.37,1)">4</text><text class="lb" transform="translate(134.5,302) rotate(-90) scale(1.37,1)">0</text>
<text class="lb" transform="translate(238.5,334) rotate(-90) scale(1.37,1)">E</text><text class="lb" transform="translate(238.5,322) rotate(-90) scale(1.37,1)">1</text><text class="lb" transform="translate(238.5,310) rotate(-90) scale(1.37,1)">4</text><text class="lb" transform="translate(238.5,298) rotate(-90) scale(1.37,1)">1</text>
<text class="lb" transform="translate(343.5,664) rotate(-90) scale(1.37,1)">E</text><text class="lb" transform="translate(343.5,652) rotate(-90) scale(1.37,1)">1</text><text class="lb" transform="translate(343.5,640) rotate(-90) scale(1.37,1)">4</text><text class="lb" transform="translate(343.5,628) rotate(-90) scale(1.37,1)">2</text>
<text class="lb" transform="translate(446.5,660) rotate(-90) scale(1.37,1)">E</text><text class="lb" transform="translate(446.5,648) rotate(-90) scale(1.37,1)">1</text><text class="lb" transform="translate(446.5,636) rotate(-90) scale(1.37,1)">4</text><text class="lb" transform="translate(446.5,624) rotate(-90) scale(1.37,1)">3</text>
<text class="lb" transform="translate(550.5,660) rotate(-90) scale(1.37,1)">E</text><text class="lb" transform="translate(550.5,648) rotate(-90) scale(1.37,1)">1</text><text class="lb" transform="translate(550.5,636) rotate(-90) scale(1.37,1)">4</text><text class="lb" transform="translate(550.5,624) rotate(-90) scale(1.37,1)">4</text>
<text class="lb" transform="translate(655.5,548) rotate(-90) scale(1.37,1)">E</text><text class="lb" transform="translate(655.5,537) rotate(-90) scale(1.37,1)">1</text><text class="lb" transform="translate(655.5,528) rotate(-90) scale(1.37,1)">4</text><text class="lb" transform="translate(655.5,518) rotate(-90) scale(1.37,1)">5</text>
<clipPath id="tc"><rect x="430" y="0" width="200" height="26"/></clipPath>
<text class="mono" x="446" y="26" font-size="13" textLength="154" lengthAdjust="spacingAndGlyphs" font-weight="bold" font-style="italic" clip-path="url(#tc)">Sanguisorba japonensis</text>
<text class="sans" x="697" y="38.5" font-size="11" textLength="47" lengthAdjust="spacingAndGlyphs">ROSACEAE</text>
<text class="mono" x="705" y="506" font-size="13" textLength="162" lengthAdjust="spacingAndGlyphs">Period of the latest record</text>
<text class="mono" x="757" y="531" font-size="13" textLength="42" lengthAdjust="spacingAndGlyphs">unknown</text>
<text class="serif" x="781" y="545" font-size="14" textLength="29" lengthAdjust="spacingAndGlyphs">-1900</text>
<text class="serif" x="757.5" y="558" font-size="14" textLength="53" lengthAdjust="spacingAndGlyphs">1901-1940</text>
<text class="serif" x="757.5" y="571" font-size="14" textLength="53" lengthAdjust="spacingAndGlyphs">1941-1960</text>
<text class="serif" x="757.5" y="584" font-size="14" textLength="53" lengthAdjust="spacingAndGlyphs">1961-1980</text>
<text class="serif" x="757.5" y="597" font-size="14" textLength="53" lengthAdjust="spacingAndGlyphs">1981-2000</text>
<text class="serif" x="757.5" y="610" font-size="14" textLength="53" lengthAdjust="spacingAndGlyphs">2001-2020</text>
<text class="mono" x="866" y="689" font-size="13" textLength="54" lengthAdjust="spacingAndGlyphs">2005/5/14</text>
<text class="mono" x="883" y="676" font-size="12" textLength="36" lengthAdjust="spacingAndGlyphs" font-style="italic">723800</text>
<text class="mono" x="33" y="701" font-size="13" textLength="288" lengthAdjust="spacingAndGlyphs">Wildlife Research Institute. Copyright reserved.</text>
</svg>
</body></html>
